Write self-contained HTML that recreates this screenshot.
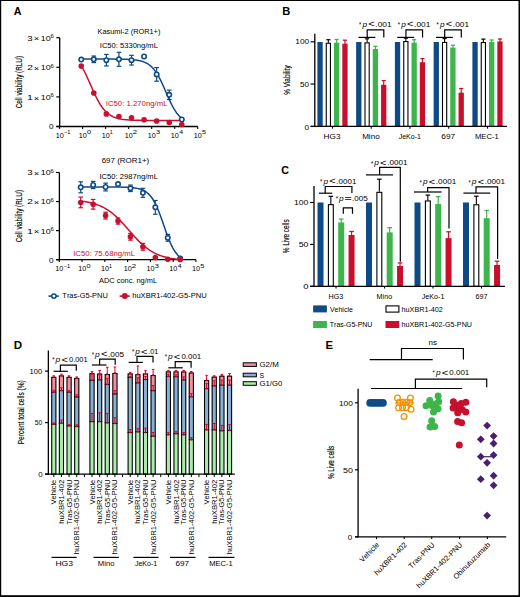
<!DOCTYPE html>
<html><head><meta charset="utf-8"><style>
html,body{margin:0;padding:0;background:#fff;width:520px;height:597px;overflow:hidden;}
svg{display:block;}
text{font-kerning:none;}
</style></head><body>
<svg width="520" height="597" viewBox="0 0 520 597">
<rect x="0" y="0" width="520" height="597" fill="#fff"/>
<text transform="translate(13.63,15.1) scale(0.941,1)" fill="#000" style="font-family:'Liberation Sans', sans-serif;font-size:11.4px;font-weight:bold;">A</text>
<line x1="59.7" y1="37.7" x2="59.7" y2="127.15" stroke="#000" stroke-width="1.3" stroke-linecap="butt"/>
<line x1="56.3" y1="126.5" x2="197.72" y2="126.5" stroke="#000" stroke-width="1.3" stroke-linecap="butt"/>
<line x1="56.3" y1="126.5" x2="59.7" y2="126.5" stroke="#000" stroke-width="1.2" stroke-linecap="butt"/>
<line x1="56.3" y1="96.9" x2="59.7" y2="96.9" stroke="#000" stroke-width="1.2" stroke-linecap="butt"/>
<line x1="56.3" y1="67.3" x2="59.7" y2="67.3" stroke="#000" stroke-width="1.2" stroke-linecap="butt"/>
<line x1="56.3" y1="37.7" x2="59.7" y2="37.7" stroke="#000" stroke-width="1.2" stroke-linecap="butt"/>
<line x1="59.6" y1="126.5" x2="59.6" y2="128.9" stroke="#000" stroke-width="1.1" stroke-linecap="butt"/>
<line x1="82.62" y1="126.5" x2="82.62" y2="128.9" stroke="#000" stroke-width="1.1" stroke-linecap="butt"/>
<line x1="105.64" y1="126.5" x2="105.64" y2="128.9" stroke="#000" stroke-width="1.1" stroke-linecap="butt"/>
<line x1="128.66" y1="126.5" x2="128.66" y2="128.9" stroke="#000" stroke-width="1.1" stroke-linecap="butt"/>
<line x1="151.68" y1="126.5" x2="151.68" y2="128.9" stroke="#000" stroke-width="1.1" stroke-linecap="butt"/>
<line x1="174.7" y1="126.5" x2="174.7" y2="128.9" stroke="#000" stroke-width="1.1" stroke-linecap="butt"/>
<line x1="197.72" y1="126.5" x2="197.72" y2="128.9" stroke="#000" stroke-width="1.1" stroke-linecap="butt"/>
<text transform="translate(49.08,129.4) scale(1.133,1)" fill="#000" style="font-family:'Liberation Sans', sans-serif;font-size:7.2px;">0</text>
<text transform="translate(26.89,99.8) scale(1.482,1)" fill="#000" style="font-family:'Liberation Sans', sans-serif;font-size:7.2px;">1</text>
<text transform="translate(33.85,100.5) scale(1.178,1)" fill="#000" style="font-family:'Liberation Sans', sans-serif;font-size:8px;">×</text>
<text transform="translate(40.82,99.8) scale(1.240,1)" fill="#000" style="font-family:'Liberation Sans', sans-serif;font-size:7.2px;">10</text>
<text transform="translate(50.5,97.2) scale(1.272,1)" fill="#000" style="font-family:'Liberation Sans', sans-serif;font-size:4.6px;">6</text>
<text transform="translate(27.19,70.2) scale(1.402,1)" fill="#000" style="font-family:'Liberation Sans', sans-serif;font-size:7.2px;">2</text>
<text transform="translate(33.85,70.9) scale(1.178,1)" fill="#000" style="font-family:'Liberation Sans', sans-serif;font-size:8px;">×</text>
<text transform="translate(40.82,70.2) scale(1.240,1)" fill="#000" style="font-family:'Liberation Sans', sans-serif;font-size:7.2px;">10</text>
<text transform="translate(50.5,67.6) scale(1.272,1)" fill="#000" style="font-family:'Liberation Sans', sans-serif;font-size:4.6px;">6</text>
<text transform="translate(27.33,40.6) scale(1.348,1)" fill="#000" style="font-family:'Liberation Sans', sans-serif;font-size:7.2px;">3</text>
<text transform="translate(33.85,41.3) scale(1.178,1)" fill="#000" style="font-family:'Liberation Sans', sans-serif;font-size:8px;">×</text>
<text transform="translate(40.82,40.6) scale(1.240,1)" fill="#000" style="font-family:'Liberation Sans', sans-serif;font-size:7.2px;">10</text>
<text transform="translate(50.5,38) scale(1.272,1)" fill="#000" style="font-family:'Liberation Sans', sans-serif;font-size:4.6px;">6</text>
<text transform="translate(55.65,138) scale(1.032,1)" fill="#000" style="font-family:'Liberation Sans', sans-serif;font-size:7px;">10</text>
<text transform="translate(64.02,134.4) scale(1.068,1)" fill="#000" style="font-family:'Liberation Sans', sans-serif;font-size:5.3px;">−1</text>
<text transform="translate(78.67,138) scale(1.032,1)" fill="#000" style="font-family:'Liberation Sans', sans-serif;font-size:7px;">10</text>
<text transform="translate(86.93,134.4) scale(1.381,1)" fill="#000" style="font-family:'Liberation Sans', sans-serif;font-size:5.3px;">0</text>
<text transform="translate(101.69,138) scale(1.032,1)" fill="#000" style="font-family:'Liberation Sans', sans-serif;font-size:7px;">10</text>
<text transform="translate(109.83,134.4) scale(1.007,1)" fill="#000" style="font-family:'Liberation Sans', sans-serif;font-size:5.3px;">1</text>
<text transform="translate(124.71,138) scale(1.032,1)" fill="#000" style="font-family:'Liberation Sans', sans-serif;font-size:7px;">10</text>
<text transform="translate(132.87,134.4) scale(1.450,1)" fill="#000" style="font-family:'Liberation Sans', sans-serif;font-size:5.3px;">2</text>
<text transform="translate(147.73,138) scale(1.032,1)" fill="#000" style="font-family:'Liberation Sans', sans-serif;font-size:7px;">10</text>
<text transform="translate(156,134.4) scale(1.393,1)" fill="#000" style="font-family:'Liberation Sans', sans-serif;font-size:5.3px;">3</text>
<text transform="translate(170.75,138) scale(1.032,1)" fill="#000" style="font-family:'Liberation Sans', sans-serif;font-size:7px;">10</text>
<text transform="translate(179.14,134.4) scale(1.311,1)" fill="#000" style="font-family:'Liberation Sans', sans-serif;font-size:5.3px;">4</text>
<text transform="translate(193.77,138) scale(1.032,1)" fill="#000" style="font-family:'Liberation Sans', sans-serif;font-size:7px;">10</text>
<text transform="translate(202.02,134.4) scale(1.393,1)" fill="#000" style="font-family:'Liberation Sans', sans-serif;font-size:5.3px;">5</text>
<text transform="translate(21.5,108.22) rotate(-90) scale(0.707,1)" fill="#000" style="font-family:'Liberation Sans', sans-serif;font-size:9px;stroke:#000;stroke-width:0.14px;">Cell viability (RLU)</text>
<text transform="translate(97.6,34.2) scale(0.970,1)" fill="#000" style="font-family:'Liberation Sans', sans-serif;font-size:7.6px;">Kasumi-2 (ROR1+)</text>
<text transform="translate(99.8,48.3) scale(1.011,1)" fill="#000" style="font-family:'Liberation Sans', sans-serif;font-size:7.5px;">IC50: 5330ng/mL</text>
<text transform="translate(105.78,105.9) scale(1.038,1)" fill="#c8102e" style="font-family:'Liberation Sans', sans-serif;font-size:7.5px;">IC50: 1.270ng/mL</text>
<polyline points="81.24,59.07 82.51,59.07 83.78,59.07 85.06,59.07 86.33,59.07 87.6,59.07 88.88,59.07 90.15,59.07 91.42,59.07 92.69,59.07 93.97,59.07 95.24,59.07 96.51,59.08 97.79,59.08 99.06,59.08 100.33,59.08 101.6,59.08 102.88,59.08 104.15,59.08 105.42,59.08 106.69,59.09 107.97,59.09 109.24,59.09 110.51,59.1 111.79,59.1 113.06,59.11 114.33,59.12 115.6,59.13 116.88,59.14 118.15,59.15 119.42,59.17 120.7,59.19 121.97,59.21 123.24,59.24 124.51,59.27 125.79,59.31 127.06,59.35 128.33,59.41 129.61,59.47 130.88,59.55 132.15,59.64 133.42,59.76 134.7,59.89 135.97,60.04 137.24,60.23 138.51,60.45 139.79,60.72 141.06,61.03 142.33,61.4 143.61,61.83 144.88,62.35 146.15,62.95 147.42,63.65 148.7,64.48 149.97,65.43 151.24,66.53 152.52,67.79 153.79,69.24 155.06,70.87 156.33,72.69 157.61,74.72 158.88,76.95 160.15,79.37 161.43,81.95 162.7,84.68 163.97,87.52 165.24,90.43 166.52,93.36 167.79,96.27 169.06,99.12 170.33,101.85 171.61,104.45 172.88,106.87 174.15,109.1 175.43,111.14 176.7,112.98 177.97,114.61 179.24,116.06 180.52,117.33 181.79,118.44" fill="none" stroke="#0e4b86" stroke-width="1.5" stroke-linejoin="round"/>
<polyline points="81.24,65.75 82.51,67.93 83.78,70.28 85.06,72.78 86.33,75.43 87.6,78.19 88.88,81.03 90.15,83.92 91.42,86.82 92.69,89.69 93.97,92.5 95.24,95.21 96.51,97.79 97.79,100.23 99.06,102.5 100.33,104.6 101.6,106.51 102.88,108.25 104.15,109.81 105.42,111.2 106.69,112.43 107.97,113.52 109.24,114.48 110.51,115.31 111.79,116.04 113.06,116.67 114.33,117.22 115.6,117.69 116.88,118.09 118.15,118.44 119.42,118.74 120.7,119 121.97,119.22 123.24,119.41 124.51,119.57 125.79,119.7 127.06,119.82 128.33,119.92 129.61,120 130.88,120.08 132.15,120.14 133.42,120.19 134.7,120.24 135.97,120.27 137.24,120.31 138.51,120.33 139.79,120.36 141.06,120.38 142.33,120.39 143.61,120.41 144.88,120.42 146.15,120.43 147.42,120.44 148.7,120.45 149.97,120.45 151.24,120.46 152.52,120.46 153.79,120.47 155.06,120.47 156.33,120.47 157.61,120.48 158.88,120.48 160.15,120.48 161.43,120.48 162.7,120.48 163.97,120.49 165.24,120.49 166.52,120.49 167.79,120.49 169.06,120.49 170.33,120.49 171.61,120.49 172.88,120.49 174.15,120.49 175.43,120.49 176.7,120.49 177.97,120.49 179.24,120.49 180.52,120.49 181.79,120.49" fill="none" stroke="#c8102e" stroke-width="1.5" stroke-linejoin="round"/>
<circle cx="81.24" cy="59.6" r="2.2" fill="#fff" stroke="#0e4b86" stroke-width="1.6"/>
<line x1="93.81" y1="56.01" x2="93.81" y2="62.61" stroke="#0e4b86" stroke-width="1.2" stroke-linecap="butt"/>
<line x1="91.51" y1="56.01" x2="96.11" y2="56.01" stroke="#0e4b86" stroke-width="1.2" stroke-linecap="butt"/>
<line x1="91.51" y1="62.61" x2="96.11" y2="62.61" stroke="#0e4b86" stroke-width="1.2" stroke-linecap="butt"/>
<circle cx="93.81" cy="59.31" r="2.2" fill="#fff" stroke="#0e4b86" stroke-width="1.6"/>
<line x1="106.38" y1="54.45" x2="106.38" y2="65.95" stroke="#0e4b86" stroke-width="1.2" stroke-linecap="butt"/>
<line x1="104.08" y1="54.45" x2="108.68" y2="54.45" stroke="#0e4b86" stroke-width="1.2" stroke-linecap="butt"/>
<line x1="104.08" y1="65.95" x2="108.68" y2="65.95" stroke="#0e4b86" stroke-width="1.2" stroke-linecap="butt"/>
<circle cx="106.38" cy="60.2" r="2.2" fill="#fff" stroke="#0e4b86" stroke-width="1.6"/>
<line x1="118.95" y1="52.31" x2="118.95" y2="66.31" stroke="#0e4b86" stroke-width="1.2" stroke-linecap="butt"/>
<line x1="116.65" y1="52.31" x2="121.25" y2="52.31" stroke="#0e4b86" stroke-width="1.2" stroke-linecap="butt"/>
<line x1="116.65" y1="66.31" x2="121.25" y2="66.31" stroke="#0e4b86" stroke-width="1.2" stroke-linecap="butt"/>
<circle cx="118.95" cy="59.31" r="2.2" fill="#fff" stroke="#0e4b86" stroke-width="1.6"/>
<line x1="131.51" y1="55.35" x2="131.51" y2="65.05" stroke="#0e4b86" stroke-width="1.2" stroke-linecap="butt"/>
<line x1="129.21" y1="55.35" x2="133.81" y2="55.35" stroke="#0e4b86" stroke-width="1.2" stroke-linecap="butt"/>
<line x1="129.21" y1="65.05" x2="133.81" y2="65.05" stroke="#0e4b86" stroke-width="1.2" stroke-linecap="butt"/>
<circle cx="131.51" cy="60.2" r="2.2" fill="#fff" stroke="#0e4b86" stroke-width="1.6"/>
<circle cx="144.08" cy="56.5" r="2.2" fill="#fff" stroke="#0e4b86" stroke-width="1.6"/>
<line x1="156.65" y1="67.6" x2="156.65" y2="81.2" stroke="#0e4b86" stroke-width="1.2" stroke-linecap="butt"/>
<line x1="154.35" y1="67.6" x2="158.95" y2="67.6" stroke="#0e4b86" stroke-width="1.2" stroke-linecap="butt"/>
<line x1="154.35" y1="81.2" x2="158.95" y2="81.2" stroke="#0e4b86" stroke-width="1.2" stroke-linecap="butt"/>
<circle cx="156.65" cy="74.4" r="2.2" fill="#fff" stroke="#0e4b86" stroke-width="1.6"/>
<line x1="169.22" y1="90.13" x2="169.22" y2="99.53" stroke="#0e4b86" stroke-width="1.2" stroke-linecap="butt"/>
<line x1="166.92" y1="90.13" x2="171.52" y2="90.13" stroke="#0e4b86" stroke-width="1.2" stroke-linecap="butt"/>
<line x1="166.92" y1="99.53" x2="171.52" y2="99.53" stroke="#0e4b86" stroke-width="1.2" stroke-linecap="butt"/>
<circle cx="169.22" cy="94.83" r="2.2" fill="#fff" stroke="#0e4b86" stroke-width="1.6"/>
<circle cx="181.79" cy="119.51" r="2.2" fill="#fff" stroke="#0e4b86" stroke-width="1.6"/>
<circle cx="81.24" cy="66.12" r="2.8" fill="#c8102e"/>
<circle cx="93.81" cy="93.05" r="2.8" fill="#c8102e"/>
<circle cx="106.38" cy="113.89" r="2.8" fill="#c8102e"/>
<circle cx="118.95" cy="116.61" r="2.8" fill="#c8102e"/>
<circle cx="131.51" cy="117.71" r="2.8" fill="#c8102e"/>
<circle cx="144.08" cy="119.81" r="2.8" fill="#c8102e"/>
<circle cx="156.65" cy="120.99" r="2.8" fill="#c8102e"/>
<circle cx="169.22" cy="122.5" r="2.8" fill="#c8102e"/>
<circle cx="181.79" cy="124.49" r="2.8" fill="#c8102e"/>
<line x1="59.4" y1="172.49" x2="59.4" y2="260.35" stroke="#000" stroke-width="1.3" stroke-linecap="butt"/>
<line x1="56" y1="259.7" x2="195.98" y2="259.7" stroke="#000" stroke-width="1.3" stroke-linecap="butt"/>
<line x1="56" y1="259.7" x2="59.4" y2="259.7" stroke="#000" stroke-width="1.2" stroke-linecap="butt"/>
<line x1="56" y1="230.63" x2="59.4" y2="230.63" stroke="#000" stroke-width="1.2" stroke-linecap="butt"/>
<line x1="56" y1="201.56" x2="59.4" y2="201.56" stroke="#000" stroke-width="1.2" stroke-linecap="butt"/>
<line x1="56" y1="172.49" x2="59.4" y2="172.49" stroke="#000" stroke-width="1.2" stroke-linecap="butt"/>
<line x1="59.3" y1="259.7" x2="59.3" y2="262.1" stroke="#000" stroke-width="1.1" stroke-linecap="butt"/>
<line x1="82.08" y1="259.7" x2="82.08" y2="262.1" stroke="#000" stroke-width="1.1" stroke-linecap="butt"/>
<line x1="104.86" y1="259.7" x2="104.86" y2="262.1" stroke="#000" stroke-width="1.1" stroke-linecap="butt"/>
<line x1="127.64" y1="259.7" x2="127.64" y2="262.1" stroke="#000" stroke-width="1.1" stroke-linecap="butt"/>
<line x1="150.42" y1="259.7" x2="150.42" y2="262.1" stroke="#000" stroke-width="1.1" stroke-linecap="butt"/>
<line x1="173.2" y1="259.7" x2="173.2" y2="262.1" stroke="#000" stroke-width="1.1" stroke-linecap="butt"/>
<line x1="195.98" y1="259.7" x2="195.98" y2="262.1" stroke="#000" stroke-width="1.1" stroke-linecap="butt"/>
<text transform="translate(49.08,262.6) scale(1.133,1)" fill="#000" style="font-family:'Liberation Sans', sans-serif;font-size:7.2px;">0</text>
<text transform="translate(26.89,233.53) scale(1.482,1)" fill="#000" style="font-family:'Liberation Sans', sans-serif;font-size:7.2px;">1</text>
<text transform="translate(33.85,234.23) scale(1.178,1)" fill="#000" style="font-family:'Liberation Sans', sans-serif;font-size:8px;">×</text>
<text transform="translate(40.82,233.53) scale(1.240,1)" fill="#000" style="font-family:'Liberation Sans', sans-serif;font-size:7.2px;">10</text>
<text transform="translate(50.5,230.93) scale(1.272,1)" fill="#000" style="font-family:'Liberation Sans', sans-serif;font-size:4.6px;">6</text>
<text transform="translate(27.19,204.46) scale(1.402,1)" fill="#000" style="font-family:'Liberation Sans', sans-serif;font-size:7.2px;">2</text>
<text transform="translate(33.85,205.16) scale(1.178,1)" fill="#000" style="font-family:'Liberation Sans', sans-serif;font-size:8px;">×</text>
<text transform="translate(40.82,204.46) scale(1.240,1)" fill="#000" style="font-family:'Liberation Sans', sans-serif;font-size:7.2px;">10</text>
<text transform="translate(50.5,201.86) scale(1.272,1)" fill="#000" style="font-family:'Liberation Sans', sans-serif;font-size:4.6px;">6</text>
<text transform="translate(27.33,175.39) scale(1.348,1)" fill="#000" style="font-family:'Liberation Sans', sans-serif;font-size:7.2px;">3</text>
<text transform="translate(33.85,176.09) scale(1.178,1)" fill="#000" style="font-family:'Liberation Sans', sans-serif;font-size:8px;">×</text>
<text transform="translate(40.82,175.39) scale(1.240,1)" fill="#000" style="font-family:'Liberation Sans', sans-serif;font-size:7.2px;">10</text>
<text transform="translate(50.5,172.79) scale(1.272,1)" fill="#000" style="font-family:'Liberation Sans', sans-serif;font-size:4.6px;">6</text>
<text transform="translate(55.35,271.2) scale(1.032,1)" fill="#000" style="font-family:'Liberation Sans', sans-serif;font-size:7px;">10</text>
<text transform="translate(63.72,267.6) scale(1.068,1)" fill="#000" style="font-family:'Liberation Sans', sans-serif;font-size:5.3px;">−1</text>
<text transform="translate(78.13,271.2) scale(1.032,1)" fill="#000" style="font-family:'Liberation Sans', sans-serif;font-size:7px;">10</text>
<text transform="translate(86.39,267.6) scale(1.381,1)" fill="#000" style="font-family:'Liberation Sans', sans-serif;font-size:5.3px;">0</text>
<text transform="translate(100.91,271.2) scale(1.032,1)" fill="#000" style="font-family:'Liberation Sans', sans-serif;font-size:7px;">10</text>
<text transform="translate(109.05,267.6) scale(1.007,1)" fill="#000" style="font-family:'Liberation Sans', sans-serif;font-size:5.3px;">1</text>
<text transform="translate(123.69,271.2) scale(1.032,1)" fill="#000" style="font-family:'Liberation Sans', sans-serif;font-size:7px;">10</text>
<text transform="translate(131.85,267.6) scale(1.450,1)" fill="#000" style="font-family:'Liberation Sans', sans-serif;font-size:5.3px;">2</text>
<text transform="translate(146.47,271.2) scale(1.032,1)" fill="#000" style="font-family:'Liberation Sans', sans-serif;font-size:7px;">10</text>
<text transform="translate(154.74,267.6) scale(1.393,1)" fill="#000" style="font-family:'Liberation Sans', sans-serif;font-size:5.3px;">3</text>
<text transform="translate(169.25,271.2) scale(1.032,1)" fill="#000" style="font-family:'Liberation Sans', sans-serif;font-size:7px;">10</text>
<text transform="translate(177.64,267.6) scale(1.311,1)" fill="#000" style="font-family:'Liberation Sans', sans-serif;font-size:5.3px;">4</text>
<text transform="translate(192.03,271.2) scale(1.032,1)" fill="#000" style="font-family:'Liberation Sans', sans-serif;font-size:7px;">10</text>
<text transform="translate(200.28,267.6) scale(1.393,1)" fill="#000" style="font-family:'Liberation Sans', sans-serif;font-size:5.3px;">5</text>
<text transform="translate(21.5,242.22) rotate(-90) scale(0.707,1)" fill="#000" style="font-family:'Liberation Sans', sans-serif;font-size:9px;stroke:#000;stroke-width:0.14px;">Cell viability (RLU)</text>
<text transform="translate(101.7,162.8) scale(1.048,1)" fill="#000" style="font-family:'Liberation Sans', sans-serif;font-size:7.6px;">697 (ROR1+)</text>
<text transform="translate(99.5,179.4) scale(1.016,1)" fill="#000" style="font-family:'Liberation Sans', sans-serif;font-size:7.5px;">IC50: 2987ng/mL</text>
<text transform="translate(73.18,255.5) scale(1.041,1)" fill="#c8102e" style="font-family:'Liberation Sans', sans-serif;font-size:7.5px;">IC50: 75.68ng/mL</text>
<polyline points="80.71,187 81.97,187 83.23,187 84.49,187 85.75,187 87.01,187 88.27,187 89.53,187 90.79,187 92.05,187 93.31,187 94.57,187 95.83,187 97.09,187 98.35,187 99.61,187 100.87,187 102.13,187 103.38,187 104.64,187.01 105.9,187.01 107.16,187.01 108.42,187.01 109.68,187.02 110.94,187.02 112.2,187.03 113.46,187.03 114.72,187.04 115.98,187.05 117.24,187.06 118.5,187.08 119.76,187.09 121.02,187.11 122.28,187.14 123.54,187.17 124.8,187.2 126.06,187.25 127.32,187.3 128.58,187.36 129.83,187.44 131.09,187.53 132.35,187.64 133.61,187.78 134.87,187.94 136.13,188.14 137.39,188.37 138.65,188.66 139.91,189 141.17,189.41 142.43,189.9 143.69,190.48 144.95,191.17 146.21,192 147.47,192.97 148.73,194.11 149.99,195.44 151.25,196.99 152.51,198.77 153.77,200.8 155.03,203.09 156.29,205.65 157.54,208.47 158.8,211.54 160.06,214.82 161.32,218.28 162.58,221.85 163.84,225.49 165.1,229.11 166.36,232.67 167.62,236.09 168.88,239.32 170.14,242.34 171.4,245.1 172.66,247.6 173.92,249.84 175.18,251.81 176.44,253.54 177.7,255.03 178.96,256.32 180.22,257.42" fill="none" stroke="#0e4b86" stroke-width="1.5" stroke-linejoin="round"/>
<polyline points="80.71,201.08 81.97,201.24 83.23,201.41 84.49,201.6 85.75,201.8 87.01,202.02 88.27,202.27 89.53,202.53 90.79,202.82 92.05,203.13 93.31,203.47 94.57,203.84 95.83,204.24 97.09,204.68 98.35,205.15 99.61,205.65 100.87,206.2 102.13,206.79 103.38,207.42 104.64,208.09 105.9,208.82 107.16,209.59 108.42,210.41 109.68,211.28 110.94,212.21 112.2,213.19 113.46,214.22 114.72,215.3 115.98,216.43 117.24,217.61 118.5,218.84 119.76,220.11 121.02,221.42 122.28,222.76 123.54,224.14 124.8,225.54 126.06,226.96 127.32,228.4 128.58,229.84 129.83,231.28 131.09,232.72 132.35,234.15 133.61,235.56 134.87,236.95 136.13,238.31 137.39,239.63 138.65,240.92 139.91,242.17 141.17,243.37 142.43,244.52 143.69,245.62 144.95,246.67 146.21,247.68 147.47,248.62 148.73,249.52 149.99,250.36 151.25,251.16 152.51,251.9 153.77,252.6 155.03,253.25 156.29,253.85 157.54,254.42 158.8,254.94 160.06,255.43 161.32,255.87 162.58,256.29 163.84,256.67 165.1,257.02 166.36,257.35 167.62,257.65 168.88,257.92 170.14,258.18 171.4,258.41 172.66,258.62 173.92,258.81 175.18,258.99 176.44,259.16 177.7,259.31 178.96,259.44 180.22,259.57" fill="none" stroke="#c8102e" stroke-width="1.5" stroke-linejoin="round"/>
<line x1="80.71" y1="181.82" x2="80.71" y2="192.82" stroke="#0e4b86" stroke-width="1.2" stroke-linecap="butt"/>
<line x1="78.41" y1="181.82" x2="83.01" y2="181.82" stroke="#0e4b86" stroke-width="1.2" stroke-linecap="butt"/>
<line x1="78.41" y1="192.82" x2="83.01" y2="192.82" stroke="#0e4b86" stroke-width="1.2" stroke-linecap="butt"/>
<circle cx="80.71" cy="187.32" r="2.2" fill="#fff" stroke="#0e4b86" stroke-width="1.6"/>
<line x1="93.15" y1="181.39" x2="93.15" y2="188.59" stroke="#0e4b86" stroke-width="1.2" stroke-linecap="butt"/>
<line x1="90.85" y1="181.39" x2="95.45" y2="181.39" stroke="#0e4b86" stroke-width="1.2" stroke-linecap="butt"/>
<line x1="90.85" y1="188.59" x2="95.45" y2="188.59" stroke="#0e4b86" stroke-width="1.2" stroke-linecap="butt"/>
<circle cx="93.15" cy="184.99" r="2.2" fill="#fff" stroke="#0e4b86" stroke-width="1.6"/>
<line x1="105.59" y1="183.12" x2="105.59" y2="190.92" stroke="#0e4b86" stroke-width="1.2" stroke-linecap="butt"/>
<line x1="103.29" y1="183.12" x2="107.89" y2="183.12" stroke="#0e4b86" stroke-width="1.2" stroke-linecap="butt"/>
<line x1="103.29" y1="190.92" x2="107.89" y2="190.92" stroke="#0e4b86" stroke-width="1.2" stroke-linecap="butt"/>
<circle cx="105.59" cy="187.02" r="2.2" fill="#fff" stroke="#0e4b86" stroke-width="1.6"/>
<circle cx="118.03" cy="184.12" r="2.2" fill="#fff" stroke="#0e4b86" stroke-width="1.6"/>
<line x1="130.46" y1="185.05" x2="130.46" y2="191.55" stroke="#0e4b86" stroke-width="1.2" stroke-linecap="butt"/>
<line x1="128.16" y1="185.05" x2="132.76" y2="185.05" stroke="#0e4b86" stroke-width="1.2" stroke-linecap="butt"/>
<line x1="128.16" y1="191.55" x2="132.76" y2="191.55" stroke="#0e4b86" stroke-width="1.2" stroke-linecap="butt"/>
<circle cx="130.46" cy="188.3" r="2.2" fill="#fff" stroke="#0e4b86" stroke-width="1.6"/>
<line x1="142.9" y1="188.34" x2="142.9" y2="197.34" stroke="#0e4b86" stroke-width="1.2" stroke-linecap="butt"/>
<line x1="140.6" y1="188.34" x2="145.2" y2="188.34" stroke="#0e4b86" stroke-width="1.2" stroke-linecap="butt"/>
<line x1="140.6" y1="197.34" x2="145.2" y2="197.34" stroke="#0e4b86" stroke-width="1.2" stroke-linecap="butt"/>
<circle cx="142.9" cy="192.84" r="2.2" fill="#fff" stroke="#0e4b86" stroke-width="1.6"/>
<line x1="155.34" y1="200.47" x2="155.34" y2="214.27" stroke="#0e4b86" stroke-width="1.2" stroke-linecap="butt"/>
<line x1="153.04" y1="200.47" x2="157.64" y2="200.47" stroke="#0e4b86" stroke-width="1.2" stroke-linecap="butt"/>
<line x1="153.04" y1="214.27" x2="157.64" y2="214.27" stroke="#0e4b86" stroke-width="1.2" stroke-linecap="butt"/>
<circle cx="155.34" cy="207.37" r="2.2" fill="#fff" stroke="#0e4b86" stroke-width="1.6"/>
<line x1="167.78" y1="234.41" x2="167.78" y2="241.21" stroke="#0e4b86" stroke-width="1.2" stroke-linecap="butt"/>
<line x1="165.48" y1="234.41" x2="170.08" y2="234.41" stroke="#0e4b86" stroke-width="1.2" stroke-linecap="butt"/>
<line x1="165.48" y1="241.21" x2="170.08" y2="241.21" stroke="#0e4b86" stroke-width="1.2" stroke-linecap="butt"/>
<circle cx="167.78" cy="237.81" r="2.2" fill="#fff" stroke="#0e4b86" stroke-width="1.6"/>
<circle cx="180.22" cy="258.6" r="2.2" fill="#fff" stroke="#0e4b86" stroke-width="1.6"/>
<line x1="80.71" y1="197.13" x2="80.71" y2="207.73" stroke="#c8102e" stroke-width="1.2" stroke-linecap="butt"/>
<line x1="78.41" y1="197.13" x2="83.01" y2="197.13" stroke="#c8102e" stroke-width="1.2" stroke-linecap="butt"/>
<line x1="78.41" y1="207.73" x2="83.01" y2="207.73" stroke="#c8102e" stroke-width="1.2" stroke-linecap="butt"/>
<circle cx="80.71" cy="202.43" r="2.8" fill="#c8102e"/>
<line x1="93.15" y1="199.44" x2="93.15" y2="209.14" stroke="#c8102e" stroke-width="1.2" stroke-linecap="butt"/>
<line x1="90.85" y1="199.44" x2="95.45" y2="199.44" stroke="#c8102e" stroke-width="1.2" stroke-linecap="butt"/>
<line x1="90.85" y1="209.14" x2="95.45" y2="209.14" stroke="#c8102e" stroke-width="1.2" stroke-linecap="butt"/>
<circle cx="93.15" cy="204.29" r="2.8" fill="#c8102e"/>
<line x1="105.59" y1="212.25" x2="105.59" y2="218.95" stroke="#c8102e" stroke-width="1.2" stroke-linecap="butt"/>
<line x1="103.29" y1="212.25" x2="107.89" y2="212.25" stroke="#c8102e" stroke-width="1.2" stroke-linecap="butt"/>
<line x1="103.29" y1="218.95" x2="107.89" y2="218.95" stroke="#c8102e" stroke-width="1.2" stroke-linecap="butt"/>
<circle cx="105.59" cy="215.6" r="2.8" fill="#c8102e"/>
<line x1="118.03" y1="217.94" x2="118.03" y2="224.14" stroke="#c8102e" stroke-width="1.2" stroke-linecap="butt"/>
<line x1="115.73" y1="217.94" x2="120.33" y2="217.94" stroke="#c8102e" stroke-width="1.2" stroke-linecap="butt"/>
<line x1="115.73" y1="224.14" x2="120.33" y2="224.14" stroke="#c8102e" stroke-width="1.2" stroke-linecap="butt"/>
<circle cx="118.03" cy="221.04" r="2.8" fill="#c8102e"/>
<line x1="130.46" y1="233.44" x2="130.46" y2="240.14" stroke="#c8102e" stroke-width="1.2" stroke-linecap="butt"/>
<line x1="128.16" y1="233.44" x2="132.76" y2="233.44" stroke="#c8102e" stroke-width="1.2" stroke-linecap="butt"/>
<line x1="128.16" y1="240.14" x2="132.76" y2="240.14" stroke="#c8102e" stroke-width="1.2" stroke-linecap="butt"/>
<circle cx="130.46" cy="236.79" r="2.8" fill="#c8102e"/>
<line x1="142.9" y1="243.39" x2="142.9" y2="250.19" stroke="#c8102e" stroke-width="1.2" stroke-linecap="butt"/>
<line x1="140.6" y1="243.39" x2="145.2" y2="243.39" stroke="#c8102e" stroke-width="1.2" stroke-linecap="butt"/>
<line x1="140.6" y1="250.19" x2="145.2" y2="250.19" stroke="#c8102e" stroke-width="1.2" stroke-linecap="butt"/>
<circle cx="142.9" cy="246.79" r="2.8" fill="#c8102e"/>
<circle cx="155.34" cy="257.49" r="2.8" fill="#c8102e"/>
<circle cx="167.78" cy="259.21" r="2.8" fill="#c8102e"/>
<circle cx="180.22" cy="259.41" r="2.8" fill="#c8102e"/>
<text transform="translate(98.99,283.4) scale(0.964,1)" fill="#000" style="font-family:'Liberation Sans', sans-serif;font-size:7.7px;">ADC conc. ng/mL</text>
<line x1="48.5" y1="296.1" x2="58.8" y2="296.1" stroke="#0e4b86" stroke-width="1.6" stroke-linecap="butt"/>
<circle cx="53.9" cy="296.1" r="2.2" fill="#fff" stroke="#0e4b86" stroke-width="1.5"/>
<text transform="translate(62.33,298.2) scale(0.994,1)" fill="#000" style="font-family:'Liberation Sans', sans-serif;font-size:7.5px;">Tras-G5-PNU</text>
<line x1="119.6" y1="296.1" x2="129.8" y2="296.1" stroke="#c8102e" stroke-width="1.6" stroke-linecap="butt"/>
<circle cx="124.8" cy="296.1" r="3" fill="#c8102e"/>
<text transform="translate(132.17,298.2) scale(1.011,1)" fill="#000" style="font-family:'Liberation Sans', sans-serif;font-size:7.5px;">huXBR1-402-G5-PNU</text>
<text transform="translate(282.25,15) scale(0.978,1)" fill="#000" style="font-family:'Liberation Sans', sans-serif;font-size:11.4px;font-weight:bold;">B</text>
<text transform="translate(295.27,44) scale(1.154,1)" fill="#000" style="font-family:'Liberation Sans', sans-serif;font-size:7.2px;">100</text>
<text transform="translate(300.07,86.5) scale(1.129,1)" fill="#000" style="font-family:'Liberation Sans', sans-serif;font-size:7.2px;">50</text>
<text transform="translate(304.38,129.5) scale(1.133,1)" fill="#000" style="font-family:'Liberation Sans', sans-serif;font-size:7.2px;">0</text>
<text transform="translate(289.9,94.83) rotate(-90) scale(0.714,1)" fill="#000" style="font-family:'Liberation Sans', sans-serif;font-size:9px;stroke:#000;stroke-width:0.14px;">% Viability</text>
<rect x="317.4" y="42" width="5.3" height="84.45" fill="#0e4b86"/>
<line x1="328.35" y1="42.7" x2="328.35" y2="39.7" stroke="#000" stroke-width="1.1" stroke-linecap="butt"/>
<line x1="326.3" y1="39.7" x2="330.4" y2="39.7" stroke="#000" stroke-width="1.2" stroke-linecap="butt"/>
<rect x="326.25" y="43.25" width="4.2" height="83.2" fill="#fff" stroke="#000" stroke-width="1.1"/>
<line x1="336.65" y1="43.2" x2="336.65" y2="39.5" stroke="#3db54a" stroke-width="1.2" stroke-linecap="butt"/>
<line x1="334.6" y1="39.5" x2="338.7" y2="39.5" stroke="#3db54a" stroke-width="1.3" stroke-linecap="butt"/>
<rect x="334" y="42.7" width="5.3" height="83.75" fill="#3db54a"/>
<line x1="344.95" y1="44.2" x2="344.95" y2="40.2" stroke="#c8102e" stroke-width="1.2" stroke-linecap="butt"/>
<line x1="342.9" y1="40.2" x2="347" y2="40.2" stroke="#c8102e" stroke-width="1.3" stroke-linecap="butt"/>
<rect x="342.3" y="43.7" width="5.3" height="82.75" fill="#c8102e"/>
<line x1="332.5" y1="126.45" x2="332.5" y2="128.65" stroke="#000" stroke-width="1.1" stroke-linecap="butt"/>
<text transform="translate(323.62,139) scale(1.113,1)" fill="#000" style="font-family:'Liberation Sans', sans-serif;font-size:7.4px;">HG3</text>
<rect x="356.15" y="42" width="5.3" height="84.45" fill="#0e4b86"/>
<line x1="367.1" y1="42.3" x2="367.1" y2="38.8" stroke="#000" stroke-width="1.1" stroke-linecap="butt"/>
<line x1="365.05" y1="38.8" x2="369.15" y2="38.8" stroke="#000" stroke-width="1.2" stroke-linecap="butt"/>
<rect x="365" y="42.85" width="4.2" height="83.6" fill="#fff" stroke="#000" stroke-width="1.1"/>
<line x1="375.4" y1="49.5" x2="375.4" y2="46.3" stroke="#3db54a" stroke-width="1.2" stroke-linecap="butt"/>
<line x1="373.35" y1="46.3" x2="377.45" y2="46.3" stroke="#3db54a" stroke-width="1.3" stroke-linecap="butt"/>
<rect x="372.75" y="49" width="5.3" height="77.45" fill="#3db54a"/>
<line x1="383.7" y1="85.3" x2="383.7" y2="80.6" stroke="#c8102e" stroke-width="1.2" stroke-linecap="butt"/>
<line x1="381.65" y1="80.6" x2="385.75" y2="80.6" stroke="#c8102e" stroke-width="1.3" stroke-linecap="butt"/>
<rect x="381.05" y="84.8" width="5.3" height="41.65" fill="#c8102e"/>
<line x1="371.25" y1="126.45" x2="371.25" y2="128.65" stroke="#000" stroke-width="1.1" stroke-linecap="butt"/>
<text transform="translate(362.14,139) scale(1.091,1)" fill="#000" style="font-family:'Liberation Sans', sans-serif;font-size:7.4px;">Mino</text>
<rect x="394.9" y="42" width="5.3" height="84.45" fill="#0e4b86"/>
<line x1="405.85" y1="41" x2="405.85" y2="38.2" stroke="#000" stroke-width="1.1" stroke-linecap="butt"/>
<line x1="403.8" y1="38.2" x2="407.9" y2="38.2" stroke="#000" stroke-width="1.2" stroke-linecap="butt"/>
<rect x="403.75" y="41.55" width="4.2" height="84.9" fill="#fff" stroke="#000" stroke-width="1.1"/>
<line x1="414.15" y1="43.2" x2="414.15" y2="39.7" stroke="#3db54a" stroke-width="1.2" stroke-linecap="butt"/>
<line x1="412.1" y1="39.7" x2="416.2" y2="39.7" stroke="#3db54a" stroke-width="1.3" stroke-linecap="butt"/>
<rect x="411.5" y="42.7" width="5.3" height="83.75" fill="#3db54a"/>
<line x1="422.45" y1="62.7" x2="422.45" y2="58.6" stroke="#c8102e" stroke-width="1.2" stroke-linecap="butt"/>
<line x1="420.4" y1="58.6" x2="424.5" y2="58.6" stroke="#c8102e" stroke-width="1.3" stroke-linecap="butt"/>
<rect x="419.8" y="62.2" width="5.3" height="64.25" fill="#c8102e"/>
<line x1="410" y1="126.45" x2="410" y2="128.65" stroke="#000" stroke-width="1.1" stroke-linecap="butt"/>
<text transform="translate(398.69,139) scale(0.949,1)" fill="#000" style="font-family:'Liberation Sans', sans-serif;font-size:7.4px;">JeKo-1</text>
<rect x="433.65" y="42" width="5.3" height="84.45" fill="#0e4b86"/>
<line x1="444.6" y1="41.9" x2="444.6" y2="38.6" stroke="#000" stroke-width="1.1" stroke-linecap="butt"/>
<line x1="442.55" y1="38.6" x2="446.65" y2="38.6" stroke="#000" stroke-width="1.2" stroke-linecap="butt"/>
<rect x="442.5" y="42.45" width="4.2" height="84" fill="#fff" stroke="#000" stroke-width="1.1"/>
<line x1="452.9" y1="48.1" x2="452.9" y2="45.3" stroke="#3db54a" stroke-width="1.2" stroke-linecap="butt"/>
<line x1="450.85" y1="45.3" x2="454.95" y2="45.3" stroke="#3db54a" stroke-width="1.3" stroke-linecap="butt"/>
<rect x="450.25" y="47.6" width="5.3" height="78.85" fill="#3db54a"/>
<line x1="461.2" y1="93.2" x2="461.2" y2="88.5" stroke="#c8102e" stroke-width="1.2" stroke-linecap="butt"/>
<line x1="459.15" y1="88.5" x2="463.25" y2="88.5" stroke="#c8102e" stroke-width="1.3" stroke-linecap="butt"/>
<rect x="458.55" y="92.7" width="5.3" height="33.75" fill="#c8102e"/>
<line x1="448.75" y1="126.45" x2="448.75" y2="128.65" stroke="#000" stroke-width="1.1" stroke-linecap="butt"/>
<text transform="translate(441.28,139) scale(1.129,1)" fill="#000" style="font-family:'Liberation Sans', sans-serif;font-size:7.4px;">697</text>
<rect x="472.4" y="42" width="5.3" height="84.45" fill="#0e4b86"/>
<line x1="483.35" y1="42" x2="483.35" y2="39.1" stroke="#000" stroke-width="1.1" stroke-linecap="butt"/>
<line x1="481.3" y1="39.1" x2="485.4" y2="39.1" stroke="#000" stroke-width="1.2" stroke-linecap="butt"/>
<rect x="481.25" y="42.55" width="4.2" height="83.9" fill="#fff" stroke="#000" stroke-width="1.1"/>
<line x1="491.65" y1="42.5" x2="491.65" y2="40" stroke="#3db54a" stroke-width="1.2" stroke-linecap="butt"/>
<line x1="489.6" y1="40" x2="493.7" y2="40" stroke="#3db54a" stroke-width="1.3" stroke-linecap="butt"/>
<rect x="489" y="42" width="5.3" height="84.45" fill="#3db54a"/>
<line x1="499.95" y1="41.9" x2="499.95" y2="39" stroke="#c8102e" stroke-width="1.2" stroke-linecap="butt"/>
<line x1="497.9" y1="39" x2="502" y2="39" stroke="#c8102e" stroke-width="1.3" stroke-linecap="butt"/>
<rect x="497.3" y="41.4" width="5.3" height="85.05" fill="#c8102e"/>
<line x1="487.5" y1="126.45" x2="487.5" y2="128.65" stroke="#000" stroke-width="1.1" stroke-linecap="butt"/>
<text transform="translate(474.97,139) scale(1.034,1)" fill="#000" style="font-family:'Liberation Sans', sans-serif;font-size:7.4px;">MEC-1</text>
<line x1="314.8" y1="33.7" x2="314.8" y2="127.1" stroke="#000" stroke-width="1.3" stroke-linecap="butt"/>
<line x1="310.6" y1="126.45" x2="506.9" y2="126.45" stroke="#000" stroke-width="1.3" stroke-linecap="butt"/>
<line x1="310.6" y1="41.8" x2="314.8" y2="41.8" stroke="#000" stroke-width="1.2" stroke-linecap="butt"/>
<line x1="310.6" y1="84.05" x2="314.8" y2="84.05" stroke="#000" stroke-width="1.2" stroke-linecap="butt"/>
<line x1="310.6" y1="126.45" x2="314.8" y2="126.45" stroke="#000" stroke-width="1.2" stroke-linecap="butt"/>
<line x1="358.5" y1="37.4" x2="375.4" y2="37.4" stroke="#000" stroke-width="1.2" stroke-linecap="butt"/>
<polyline points="367.2,37.4 367.2,29.8 383.8,29.8 383.8,37.6" fill="none" stroke="#000" stroke-width="1.2" stroke-linejoin="miter"/>
<text transform="translate(359.11,27) scale(0.864,1)" fill="#000" style="font-family:'Liberation Sans', sans-serif;font-size:6.8px;">*</text>
<text transform="translate(362.41,26.6) scale(1.197,1)" fill="#000" style="font-family:'Liberation Sans', sans-serif;font-size:7px;font-style:italic;">p</text>
<text transform="translate(368.25,27.3) scale(1.235,1)" fill="#000" style="font-family:'Liberation Sans', sans-serif;font-size:9px;">&lt;</text>
<text transform="translate(375.34,26.6) scale(1.130,1)" fill="#000" style="font-family:'Liberation Sans', sans-serif;font-size:7.4px;">.001</text>
<line x1="397.25" y1="37.4" x2="414.15" y2="37.4" stroke="#000" stroke-width="1.2" stroke-linecap="butt"/>
<polyline points="405.95,37.4 405.95,29.8 422.55,29.8 422.55,37.6" fill="none" stroke="#000" stroke-width="1.2" stroke-linejoin="miter"/>
<text transform="translate(397.86,27) scale(0.864,1)" fill="#000" style="font-family:'Liberation Sans', sans-serif;font-size:6.8px;">*</text>
<text transform="translate(401.16,26.6) scale(1.197,1)" fill="#000" style="font-family:'Liberation Sans', sans-serif;font-size:7px;font-style:italic;">p</text>
<text transform="translate(407,27.3) scale(1.235,1)" fill="#000" style="font-family:'Liberation Sans', sans-serif;font-size:9px;">&lt;</text>
<text transform="translate(414.09,26.6) scale(1.130,1)" fill="#000" style="font-family:'Liberation Sans', sans-serif;font-size:7.4px;">.001</text>
<line x1="436" y1="37.4" x2="452.9" y2="37.4" stroke="#000" stroke-width="1.2" stroke-linecap="butt"/>
<polyline points="444.7,37.4 444.7,29.8 461.3,29.8 461.3,37.6" fill="none" stroke="#000" stroke-width="1.2" stroke-linejoin="miter"/>
<text transform="translate(436.61,27) scale(0.864,1)" fill="#000" style="font-family:'Liberation Sans', sans-serif;font-size:6.8px;">*</text>
<text transform="translate(439.91,26.6) scale(1.197,1)" fill="#000" style="font-family:'Liberation Sans', sans-serif;font-size:7px;font-style:italic;">p</text>
<text transform="translate(445.75,27.3) scale(1.235,1)" fill="#000" style="font-family:'Liberation Sans', sans-serif;font-size:9px;">&lt;</text>
<text transform="translate(452.84,26.6) scale(1.130,1)" fill="#000" style="font-family:'Liberation Sans', sans-serif;font-size:7.4px;">.001</text>
<text transform="translate(281.16,174.3) scale(0.939,1)" fill="#000" style="font-family:'Liberation Sans', sans-serif;font-size:11.4px;font-weight:bold;">C</text>
<text transform="translate(293.94,205.1) scale(1.207,1)" fill="#000" style="font-family:'Liberation Sans', sans-serif;font-size:7.2px;">100</text>
<text transform="translate(298.65,247) scale(1.223,1)" fill="#000" style="font-family:'Liberation Sans', sans-serif;font-size:7.2px;">50</text>
<text transform="translate(303.13,288.9) scale(1.307,1)" fill="#000" style="font-family:'Liberation Sans', sans-serif;font-size:7.2px;">0</text>
<text transform="translate(289,253.33) rotate(-90) scale(0.715,1)" fill="#000" style="font-family:'Liberation Sans', sans-serif;font-size:9px;stroke:#000;stroke-width:0.14px;">% Live cells</text>
<rect x="317.5" y="202.5" width="6" height="83.8" fill="#0e4b86"/>
<line x1="330.85" y1="204.1" x2="330.85" y2="196.3" stroke="#000" stroke-width="1.1" stroke-linecap="butt"/>
<line x1="328.55" y1="196.3" x2="333.15" y2="196.3" stroke="#000" stroke-width="1.2" stroke-linecap="butt"/>
<rect x="328.4" y="204.65" width="4.9" height="81.65" fill="#fff" stroke="#000" stroke-width="1.1"/>
<line x1="341.2" y1="223" x2="341.2" y2="219.1" stroke="#3db54a" stroke-width="1.2" stroke-linecap="butt"/>
<line x1="338.9" y1="219.1" x2="343.5" y2="219.1" stroke="#3db54a" stroke-width="1.3" stroke-linecap="butt"/>
<rect x="338.2" y="222.5" width="6" height="63.8" fill="#3db54a"/>
<line x1="351.55" y1="235.5" x2="351.55" y2="231.5" stroke="#c8102e" stroke-width="1.2" stroke-linecap="butt"/>
<line x1="349.25" y1="231.5" x2="353.85" y2="231.5" stroke="#c8102e" stroke-width="1.3" stroke-linecap="butt"/>
<rect x="348.55" y="235" width="6" height="51.3" fill="#c8102e"/>
<line x1="336.02" y1="286.3" x2="336.02" y2="288.5" stroke="#000" stroke-width="1.1" stroke-linecap="butt"/>
<text transform="translate(328.51,299) scale(0.970,1)" fill="#000" style="font-family:'Liberation Sans', sans-serif;font-size:7.4px;">HG3</text>
<rect x="366" y="202.5" width="6" height="83.8" fill="#0e4b86"/>
<line x1="379.35" y1="191.8" x2="379.35" y2="179.2" stroke="#000" stroke-width="1.1" stroke-linecap="butt"/>
<line x1="377.05" y1="179.2" x2="381.65" y2="179.2" stroke="#000" stroke-width="1.2" stroke-linecap="butt"/>
<rect x="376.9" y="192.35" width="4.9" height="93.95" fill="#fff" stroke="#000" stroke-width="1.1"/>
<line x1="389.7" y1="232.9" x2="389.7" y2="227.7" stroke="#3db54a" stroke-width="1.2" stroke-linecap="butt"/>
<line x1="387.4" y1="227.7" x2="392" y2="227.7" stroke="#3db54a" stroke-width="1.3" stroke-linecap="butt"/>
<rect x="386.7" y="232.4" width="6" height="53.9" fill="#3db54a"/>
<line x1="400.05" y1="266.5" x2="400.05" y2="262.9" stroke="#c8102e" stroke-width="1.2" stroke-linecap="butt"/>
<line x1="397.75" y1="262.9" x2="402.35" y2="262.9" stroke="#c8102e" stroke-width="1.3" stroke-linecap="butt"/>
<rect x="397.05" y="266" width="6" height="20.3" fill="#c8102e"/>
<line x1="384.52" y1="286.3" x2="384.52" y2="288.5" stroke="#000" stroke-width="1.1" stroke-linecap="butt"/>
<text transform="translate(376.6,299) scale(0.970,1)" fill="#000" style="font-family:'Liberation Sans', sans-serif;font-size:7.4px;">Mino</text>
<rect x="414.5" y="202.5" width="6" height="83.8" fill="#0e4b86"/>
<line x1="427.85" y1="200.4" x2="427.85" y2="195.1" stroke="#000" stroke-width="1.1" stroke-linecap="butt"/>
<line x1="425.55" y1="195.1" x2="430.15" y2="195.1" stroke="#000" stroke-width="1.2" stroke-linecap="butt"/>
<rect x="425.4" y="200.95" width="4.9" height="85.35" fill="#fff" stroke="#000" stroke-width="1.1"/>
<line x1="438.2" y1="204.4" x2="438.2" y2="196.6" stroke="#3db54a" stroke-width="1.2" stroke-linecap="butt"/>
<line x1="435.9" y1="196.6" x2="440.5" y2="196.6" stroke="#3db54a" stroke-width="1.3" stroke-linecap="butt"/>
<rect x="435.2" y="203.9" width="6" height="82.4" fill="#3db54a"/>
<line x1="448.55" y1="238.6" x2="448.55" y2="231.8" stroke="#c8102e" stroke-width="1.2" stroke-linecap="butt"/>
<line x1="446.25" y1="231.8" x2="450.85" y2="231.8" stroke="#c8102e" stroke-width="1.3" stroke-linecap="butt"/>
<rect x="445.55" y="238.1" width="6" height="48.2" fill="#c8102e"/>
<line x1="433.02" y1="286.3" x2="433.02" y2="288.5" stroke="#000" stroke-width="1.1" stroke-linecap="butt"/>
<text transform="translate(421.77,299) scale(0.970,1)" fill="#000" style="font-family:'Liberation Sans', sans-serif;font-size:7.4px;">JeKo-1</text>
<rect x="463" y="202.5" width="6" height="83.8" fill="#0e4b86"/>
<line x1="476.35" y1="204.2" x2="476.35" y2="196.2" stroke="#000" stroke-width="1.1" stroke-linecap="butt"/>
<line x1="474.05" y1="196.2" x2="478.65" y2="196.2" stroke="#000" stroke-width="1.2" stroke-linecap="butt"/>
<rect x="473.9" y="204.75" width="4.9" height="81.55" fill="#fff" stroke="#000" stroke-width="1.1"/>
<line x1="486.7" y1="218.7" x2="486.7" y2="210.5" stroke="#3db54a" stroke-width="1.2" stroke-linecap="butt"/>
<line x1="484.4" y1="210.5" x2="489" y2="210.5" stroke="#3db54a" stroke-width="1.3" stroke-linecap="butt"/>
<rect x="483.7" y="218.2" width="6" height="68.1" fill="#3db54a"/>
<line x1="497.05" y1="265.5" x2="497.05" y2="261.2" stroke="#c8102e" stroke-width="1.2" stroke-linecap="butt"/>
<line x1="494.75" y1="261.2" x2="499.35" y2="261.2" stroke="#c8102e" stroke-width="1.3" stroke-linecap="butt"/>
<rect x="494.05" y="265" width="6" height="21.3" fill="#c8102e"/>
<line x1="481.52" y1="286.3" x2="481.52" y2="288.5" stroke="#000" stroke-width="1.1" stroke-linecap="butt"/>
<text transform="translate(475.54,299) scale(0.970,1)" fill="#000" style="font-family:'Liberation Sans', sans-serif;font-size:7.4px;">697</text>
<line x1="314" y1="185.9" x2="314" y2="286.95" stroke="#000" stroke-width="1.3" stroke-linecap="butt"/>
<line x1="310" y1="286.3" x2="504.9" y2="286.3" stroke="#000" stroke-width="1.3" stroke-linecap="butt"/>
<line x1="310" y1="202.5" x2="314" y2="202.5" stroke="#000" stroke-width="1.2" stroke-linecap="butt"/>
<line x1="310" y1="244.4" x2="314" y2="244.4" stroke="#000" stroke-width="1.2" stroke-linecap="butt"/>
<line x1="310" y1="286.3" x2="314" y2="286.3" stroke="#000" stroke-width="1.2" stroke-linecap="butt"/>
<line x1="319" y1="193.2" x2="332.3" y2="193.2" stroke="#000" stroke-width="1.2" stroke-linecap="butt"/>
<polyline points="325.2,193.2 325.2,186.5 351.9,186.5 351.9,192.9" fill="none" stroke="#000" stroke-width="1.2" stroke-linejoin="miter"/>
<text transform="translate(320.11,184.1) scale(0.864,1)" fill="#000" style="font-family:'Liberation Sans', sans-serif;font-size:6.8px;">*</text>
<text transform="translate(323.41,183.7) scale(1.197,1)" fill="#000" style="font-family:'Liberation Sans', sans-serif;font-size:7px;font-style:italic;">p</text>
<text transform="translate(329.25,184.4) scale(1.235,1)" fill="#000" style="font-family:'Liberation Sans', sans-serif;font-size:9px;">&lt;</text>
<text transform="translate(336.37,183.7) scale(1.081,1)" fill="#000" style="font-family:'Liberation Sans', sans-serif;font-size:7.4px;">.0001</text>
<polyline points="343.3,213.7 343.3,207.9 352.5,207.9 352.5,213.7" fill="none" stroke="#000" stroke-width="1.2" stroke-linejoin="miter"/>
<text transform="translate(335.71,201.4) scale(0.864,1)" fill="#000" style="font-family:'Liberation Sans', sans-serif;font-size:6.8px;">*</text>
<text transform="translate(339.01,201) scale(1.197,1)" fill="#000" style="font-family:'Liberation Sans', sans-serif;font-size:7px;font-style:italic;">p</text>
<text transform="translate(344.64,200.6) scale(1.201,1)" fill="#000" style="font-family:'Liberation Sans', sans-serif;font-size:9.6px;stroke:#000;stroke-width:0.25px;">=</text>
<text transform="translate(351.95,201) scale(1.103,1)" fill="#000" style="font-family:'Liberation Sans', sans-serif;font-size:7.4px;">.005</text>
<line x1="366" y1="174.9" x2="393" y2="174.9" stroke="#000" stroke-width="1.2" stroke-linecap="butt"/>
<polyline points="379.6,174.9 379.6,167.4 400.3,167.4 400.3,261.7" fill="none" stroke="#000" stroke-width="1.2" stroke-linejoin="miter"/>
<text transform="translate(370.91,165.6) scale(0.864,1)" fill="#000" style="font-family:'Liberation Sans', sans-serif;font-size:6.8px;">*</text>
<text transform="translate(374.21,165.2) scale(1.197,1)" fill="#000" style="font-family:'Liberation Sans', sans-serif;font-size:7px;font-style:italic;">p</text>
<text transform="translate(380.05,165.9) scale(1.235,1)" fill="#000" style="font-family:'Liberation Sans', sans-serif;font-size:9px;">&lt;</text>
<text transform="translate(387.16,165.2) scale(1.093,1)" fill="#000" style="font-family:'Liberation Sans', sans-serif;font-size:7.4px;">.0001</text>
<line x1="414" y1="192" x2="441.6" y2="192" stroke="#000" stroke-width="1.2" stroke-linecap="butt"/>
<polyline points="427.6,192 427.6,187.6 449,187.6 449,228.6" fill="none" stroke="#000" stroke-width="1.2" stroke-linejoin="miter"/>
<text transform="translate(419.61,184.6) scale(0.864,1)" fill="#000" style="font-family:'Liberation Sans', sans-serif;font-size:6.8px;">*</text>
<text transform="translate(422.91,184.2) scale(1.197,1)" fill="#000" style="font-family:'Liberation Sans', sans-serif;font-size:7px;font-style:italic;">p</text>
<text transform="translate(428.75,184.9) scale(1.235,1)" fill="#000" style="font-family:'Liberation Sans', sans-serif;font-size:9px;">&lt;</text>
<text transform="translate(435.85,184.2) scale(1.104,1)" fill="#000" style="font-family:'Liberation Sans', sans-serif;font-size:7.4px;">.0001</text>
<line x1="463.4" y1="193.1" x2="490.2" y2="193.1" stroke="#000" stroke-width="1.2" stroke-linecap="butt"/>
<polyline points="476,193.1 476,186.8 497.6,186.8 497.6,259.1" fill="none" stroke="#000" stroke-width="1.2" stroke-linejoin="miter"/>
<text transform="translate(468.51,184.6) scale(0.864,1)" fill="#000" style="font-family:'Liberation Sans', sans-serif;font-size:6.8px;">*</text>
<text transform="translate(471.81,184.2) scale(1.197,1)" fill="#000" style="font-family:'Liberation Sans', sans-serif;font-size:7px;font-style:italic;">p</text>
<text transform="translate(477.65,184.9) scale(1.235,1)" fill="#000" style="font-family:'Liberation Sans', sans-serif;font-size:9px;">&lt;</text>
<text transform="translate(484.76,184.2) scale(1.098,1)" fill="#000" style="font-family:'Liberation Sans', sans-serif;font-size:7.4px;">.0001</text>
<rect x="313.1" y="305.4" width="13.8" height="7" fill="#0e4b86"/>
<rect x="313.1" y="321" width="13.8" height="7" fill="#3db54a"/>
<rect x="386" y="305.9" width="12.9" height="6.2" fill="#fff" stroke="#000" stroke-width="1.1"/>
<rect x="385.5" y="321" width="13.8" height="7" fill="#c8102e"/>
<text transform="translate(329.97,311.6) scale(0.967,1)" fill="#000" style="font-family:'Liberation Sans', sans-serif;font-size:7.2px;">Vehicle</text>
<text transform="translate(329.84,327) scale(0.968,1)" fill="#000" style="font-family:'Liberation Sans', sans-serif;font-size:7.2px;">Tras-G5-PNU</text>
<text transform="translate(401.6,311.6) scale(1.001,1)" fill="#000" style="font-family:'Liberation Sans', sans-serif;font-size:7.2px;">huXBR1-402</text>
<text transform="translate(401.6,327) scale(0.995,1)" fill="#000" style="font-family:'Liberation Sans', sans-serif;font-size:7.2px;">huXBR1-402-G5-PNU</text>
<text transform="translate(13.63,348.6) scale(1.016,1)" fill="#000" style="font-family:'Liberation Sans', sans-serif;font-size:11.4px;font-weight:bold;">D</text>
<text transform="translate(29.62,373.6) scale(1.055,1)" fill="#000" style="font-family:'Liberation Sans', sans-serif;font-size:7.2px;">100</text>
<text transform="translate(34.73,425.1) scale(0.941,1)" fill="#000" style="font-family:'Liberation Sans', sans-serif;font-size:7.2px;">50</text>
<text transform="translate(38.19,476.7) scale(1.104,1)" fill="#000" style="font-family:'Liberation Sans', sans-serif;font-size:7.2px;">0</text>
<text transform="translate(24.1,444.34) rotate(-90) scale(0.741,1)" fill="#000" style="font-family:'Liberation Sans', sans-serif;font-size:8.9px;stroke:#000;stroke-width:0.14px;">Percent total cells (%)</text>
<rect x="51.2" y="424.2" width="5.2" height="49.9" fill="#aaebab"/>
<rect x="51.2" y="392.2" width="5.2" height="32" fill="#8aafd2"/>
<rect x="51.2" y="376.8" width="5.2" height="15.4" fill="#f2909f"/>
<rect x="51.72" y="377.32" width="4.15" height="96.78" fill="none" stroke="#000" stroke-width="1.05"/>
<line x1="51.2" y1="392.2" x2="56.4" y2="392.2" stroke="#000" stroke-width="0.9" stroke-linecap="butt"/>
<line x1="51.2" y1="424.2" x2="56.4" y2="424.2" stroke="#000" stroke-width="0.9" stroke-linecap="butt"/>
<line x1="53.8" y1="376.8" x2="53.8" y2="375.8" stroke="#e0002a" stroke-width="1" stroke-linecap="butt"/>
<line x1="52.5" y1="375.8" x2="55.1" y2="375.8" stroke="#e0002a" stroke-width="1" stroke-linecap="butt"/>
<circle cx="53.8" cy="376.8" r="0.9" fill="#e0002a"/>
<line x1="53.8" y1="392.2" x2="53.8" y2="390.2" stroke="#e0002a" stroke-width="1" stroke-linecap="butt"/>
<line x1="52.5" y1="390.2" x2="55.1" y2="390.2" stroke="#e0002a" stroke-width="1" stroke-linecap="butt"/>
<circle cx="53.8" cy="392.2" r="0.9" fill="#e0002a"/>
<line x1="53.8" y1="424.2" x2="53.8" y2="423" stroke="#e0002a" stroke-width="1" stroke-linecap="butt"/>
<line x1="52.5" y1="423" x2="55.1" y2="423" stroke="#e0002a" stroke-width="1" stroke-linecap="butt"/>
<circle cx="53.8" cy="424.2" r="0.9" fill="#e0002a"/>
<text transform="translate(56.3,504.43) rotate(-90) scale(1.049,1)" fill="#000" style="font-family:'Liberation Sans', sans-serif;font-size:7.2px;">Vehicle</text>
<rect x="58.84" y="423.1" width="5.2" height="51" fill="#aaebab"/>
<rect x="58.84" y="390.6" width="5.2" height="32.5" fill="#8aafd2"/>
<rect x="58.84" y="375.4" width="5.2" height="15.2" fill="#f2909f"/>
<rect x="59.36" y="375.92" width="4.15" height="98.18" fill="none" stroke="#000" stroke-width="1.05"/>
<line x1="58.84" y1="390.6" x2="64.04" y2="390.6" stroke="#000" stroke-width="0.9" stroke-linecap="butt"/>
<line x1="58.84" y1="423.1" x2="64.04" y2="423.1" stroke="#000" stroke-width="0.9" stroke-linecap="butt"/>
<line x1="61.44" y1="375.4" x2="61.44" y2="374.2" stroke="#e0002a" stroke-width="1" stroke-linecap="butt"/>
<line x1="60.14" y1="374.2" x2="62.74" y2="374.2" stroke="#e0002a" stroke-width="1" stroke-linecap="butt"/>
<circle cx="61.44" cy="375.4" r="0.9" fill="#e0002a"/>
<line x1="61.44" y1="390.6" x2="61.44" y2="387.8" stroke="#e0002a" stroke-width="1" stroke-linecap="butt"/>
<line x1="60.14" y1="387.8" x2="62.74" y2="387.8" stroke="#e0002a" stroke-width="1" stroke-linecap="butt"/>
<circle cx="61.44" cy="390.6" r="0.9" fill="#e0002a"/>
<line x1="61.44" y1="423.1" x2="61.44" y2="420.1" stroke="#e0002a" stroke-width="1" stroke-linecap="butt"/>
<line x1="60.14" y1="420.1" x2="62.74" y2="420.1" stroke="#e0002a" stroke-width="1" stroke-linecap="butt"/>
<circle cx="61.44" cy="423.1" r="0.9" fill="#e0002a"/>
<text transform="translate(63.94,523.84) rotate(-90) scale(1.073,1)" fill="#000" style="font-family:'Liberation Sans', sans-serif;font-size:7.2px;">huXBR1-402</text>
<rect x="66.48" y="425.8" width="5.2" height="48.3" fill="#aaebab"/>
<rect x="66.48" y="392.2" width="5.2" height="33.6" fill="#8aafd2"/>
<rect x="66.48" y="376.8" width="5.2" height="15.4" fill="#f2909f"/>
<rect x="67.01" y="377.32" width="4.15" height="96.78" fill="none" stroke="#000" stroke-width="1.05"/>
<line x1="66.48" y1="392.2" x2="71.68" y2="392.2" stroke="#000" stroke-width="0.9" stroke-linecap="butt"/>
<line x1="66.48" y1="425.8" x2="71.68" y2="425.8" stroke="#000" stroke-width="0.9" stroke-linecap="butt"/>
<line x1="69.08" y1="376.8" x2="69.08" y2="375.8" stroke="#e0002a" stroke-width="1" stroke-linecap="butt"/>
<line x1="67.78" y1="375.8" x2="70.38" y2="375.8" stroke="#e0002a" stroke-width="1" stroke-linecap="butt"/>
<circle cx="69.08" cy="376.8" r="0.9" fill="#e0002a"/>
<line x1="69.08" y1="392.2" x2="69.08" y2="390.7" stroke="#e0002a" stroke-width="1" stroke-linecap="butt"/>
<line x1="67.78" y1="390.7" x2="70.38" y2="390.7" stroke="#e0002a" stroke-width="1" stroke-linecap="butt"/>
<circle cx="69.08" cy="392.2" r="0.9" fill="#e0002a"/>
<line x1="69.08" y1="425.8" x2="69.08" y2="424.6" stroke="#e0002a" stroke-width="1" stroke-linecap="butt"/>
<line x1="67.78" y1="424.6" x2="70.38" y2="424.6" stroke="#e0002a" stroke-width="1" stroke-linecap="butt"/>
<circle cx="69.08" cy="425.8" r="0.9" fill="#e0002a"/>
<text transform="translate(71.58,524.67) rotate(-90) scale(1.028,1)" fill="#000" style="font-family:'Liberation Sans', sans-serif;font-size:7.2px;">Tras-G5-PNU</text>
<rect x="74.12" y="426.4" width="5.2" height="47.7" fill="#aaebab"/>
<rect x="74.12" y="396.9" width="5.2" height="29.5" fill="#8aafd2"/>
<rect x="74.12" y="377.9" width="5.2" height="19" fill="#f2909f"/>
<rect x="74.65" y="378.42" width="4.15" height="95.68" fill="none" stroke="#000" stroke-width="1.05"/>
<line x1="74.12" y1="396.9" x2="79.32" y2="396.9" stroke="#000" stroke-width="0.9" stroke-linecap="butt"/>
<line x1="74.12" y1="426.4" x2="79.32" y2="426.4" stroke="#000" stroke-width="0.9" stroke-linecap="butt"/>
<line x1="76.72" y1="377.9" x2="76.72" y2="376.9" stroke="#e0002a" stroke-width="1" stroke-linecap="butt"/>
<line x1="75.42" y1="376.9" x2="78.02" y2="376.9" stroke="#e0002a" stroke-width="1" stroke-linecap="butt"/>
<circle cx="76.72" cy="377.9" r="0.9" fill="#e0002a"/>
<line x1="76.72" y1="396.9" x2="76.72" y2="394.9" stroke="#e0002a" stroke-width="1" stroke-linecap="butt"/>
<line x1="75.42" y1="394.9" x2="78.02" y2="394.9" stroke="#e0002a" stroke-width="1" stroke-linecap="butt"/>
<circle cx="76.72" cy="396.9" r="0.9" fill="#e0002a"/>
<line x1="76.72" y1="426.4" x2="76.72" y2="424.9" stroke="#e0002a" stroke-width="1" stroke-linecap="butt"/>
<line x1="75.42" y1="424.9" x2="78.02" y2="424.9" stroke="#e0002a" stroke-width="1" stroke-linecap="butt"/>
<circle cx="76.72" cy="426.4" r="0.9" fill="#e0002a"/>
<text transform="translate(79.22,554.33) rotate(-90) scale(1.058,1)" fill="#000" style="font-family:'Liberation Sans', sans-serif;font-size:7.2px;">huXBR1-402-G5-PNU</text>
<line x1="53.8" y1="474.1" x2="53.8" y2="477.1" stroke="#000" stroke-width="1" stroke-linecap="butt"/>
<line x1="61.44" y1="474.1" x2="61.44" y2="477.1" stroke="#000" stroke-width="1" stroke-linecap="butt"/>
<line x1="69.08" y1="474.1" x2="69.08" y2="477.1" stroke="#000" stroke-width="1" stroke-linecap="butt"/>
<line x1="76.72" y1="474.1" x2="76.72" y2="477.1" stroke="#000" stroke-width="1" stroke-linecap="butt"/>
<line x1="84.36" y1="474.1" x2="84.36" y2="477.1" stroke="#000" stroke-width="1" stroke-linecap="butt"/>
<rect x="89.4" y="421.6" width="5.2" height="52.5" fill="#aaebab"/>
<rect x="89.4" y="380.3" width="5.2" height="41.3" fill="#8aafd2"/>
<rect x="89.4" y="373.1" width="5.2" height="7.2" fill="#f2909f"/>
<rect x="89.93" y="373.62" width="4.15" height="100.47" fill="none" stroke="#000" stroke-width="1.05"/>
<line x1="89.4" y1="380.3" x2="94.6" y2="380.3" stroke="#000" stroke-width="0.9" stroke-linecap="butt"/>
<line x1="89.4" y1="421.6" x2="94.6" y2="421.6" stroke="#000" stroke-width="0.9" stroke-linecap="butt"/>
<line x1="92" y1="373.1" x2="92" y2="371.6" stroke="#e0002a" stroke-width="1" stroke-linecap="butt"/>
<line x1="90.7" y1="371.6" x2="93.3" y2="371.6" stroke="#e0002a" stroke-width="1" stroke-linecap="butt"/>
<circle cx="92" cy="373.1" r="0.9" fill="#e0002a"/>
<line x1="92" y1="380.3" x2="92" y2="374.3" stroke="#e0002a" stroke-width="1" stroke-linecap="butt"/>
<line x1="90.7" y1="374.3" x2="93.3" y2="374.3" stroke="#e0002a" stroke-width="1" stroke-linecap="butt"/>
<circle cx="92" cy="380.3" r="0.9" fill="#e0002a"/>
<line x1="92" y1="421.6" x2="92" y2="413.4" stroke="#e0002a" stroke-width="1" stroke-linecap="butt"/>
<line x1="90.7" y1="413.4" x2="93.3" y2="413.4" stroke="#e0002a" stroke-width="1" stroke-linecap="butt"/>
<circle cx="92" cy="421.6" r="0.9" fill="#e0002a"/>
<text transform="translate(94.5,504.43) rotate(-90) scale(1.049,1)" fill="#000" style="font-family:'Liberation Sans', sans-serif;font-size:7.2px;">Vehicle</text>
<rect x="97.04" y="421.6" width="5.2" height="52.5" fill="#aaebab"/>
<rect x="97.04" y="379.8" width="5.2" height="41.8" fill="#8aafd2"/>
<rect x="97.04" y="373.5" width="5.2" height="6.3" fill="#f2909f"/>
<rect x="97.56" y="374.02" width="4.15" height="100.08" fill="none" stroke="#000" stroke-width="1.05"/>
<line x1="97.04" y1="379.8" x2="102.24" y2="379.8" stroke="#000" stroke-width="0.9" stroke-linecap="butt"/>
<line x1="97.04" y1="421.6" x2="102.24" y2="421.6" stroke="#000" stroke-width="0.9" stroke-linecap="butt"/>
<line x1="99.64" y1="373.5" x2="99.64" y2="370.6" stroke="#e0002a" stroke-width="1" stroke-linecap="butt"/>
<line x1="98.34" y1="370.6" x2="100.94" y2="370.6" stroke="#e0002a" stroke-width="1" stroke-linecap="butt"/>
<circle cx="99.64" cy="373.5" r="0.9" fill="#e0002a"/>
<line x1="99.64" y1="379.8" x2="99.64" y2="374.8" stroke="#e0002a" stroke-width="1" stroke-linecap="butt"/>
<line x1="98.34" y1="374.8" x2="100.94" y2="374.8" stroke="#e0002a" stroke-width="1" stroke-linecap="butt"/>
<circle cx="99.64" cy="379.8" r="0.9" fill="#e0002a"/>
<line x1="99.64" y1="421.6" x2="99.64" y2="412.8" stroke="#e0002a" stroke-width="1" stroke-linecap="butt"/>
<line x1="98.34" y1="412.8" x2="100.94" y2="412.8" stroke="#e0002a" stroke-width="1" stroke-linecap="butt"/>
<circle cx="99.64" cy="421.6" r="0.9" fill="#e0002a"/>
<text transform="translate(102.14,523.84) rotate(-90) scale(1.073,1)" fill="#000" style="font-family:'Liberation Sans', sans-serif;font-size:7.2px;">huXBR1-402</text>
<rect x="104.68" y="422.8" width="5.2" height="51.3" fill="#aaebab"/>
<rect x="104.68" y="384.4" width="5.2" height="38.4" fill="#8aafd2"/>
<rect x="104.68" y="374" width="5.2" height="10.4" fill="#f2909f"/>
<rect x="105.21" y="374.52" width="4.15" height="99.58" fill="none" stroke="#000" stroke-width="1.05"/>
<line x1="104.68" y1="384.4" x2="109.88" y2="384.4" stroke="#000" stroke-width="0.9" stroke-linecap="butt"/>
<line x1="104.68" y1="422.8" x2="109.88" y2="422.8" stroke="#000" stroke-width="0.9" stroke-linecap="butt"/>
<line x1="107.28" y1="374" x2="107.28" y2="367.3" stroke="#e0002a" stroke-width="1" stroke-linecap="butt"/>
<line x1="105.98" y1="367.3" x2="108.58" y2="367.3" stroke="#e0002a" stroke-width="1" stroke-linecap="butt"/>
<circle cx="107.28" cy="374" r="0.9" fill="#e0002a"/>
<line x1="107.28" y1="384.4" x2="107.28" y2="378.6" stroke="#e0002a" stroke-width="1" stroke-linecap="butt"/>
<line x1="105.98" y1="378.6" x2="108.58" y2="378.6" stroke="#e0002a" stroke-width="1" stroke-linecap="butt"/>
<circle cx="107.28" cy="384.4" r="0.9" fill="#e0002a"/>
<line x1="107.28" y1="422.8" x2="107.28" y2="413.4" stroke="#e0002a" stroke-width="1" stroke-linecap="butt"/>
<line x1="105.98" y1="413.4" x2="108.58" y2="413.4" stroke="#e0002a" stroke-width="1" stroke-linecap="butt"/>
<circle cx="107.28" cy="422.8" r="0.9" fill="#e0002a"/>
<text transform="translate(109.78,524.67) rotate(-90) scale(1.028,1)" fill="#000" style="font-family:'Liberation Sans', sans-serif;font-size:7.2px;">Tras-G5-PNU</text>
<rect x="112.32" y="423.4" width="5.2" height="50.7" fill="#aaebab"/>
<rect x="112.32" y="393.9" width="5.2" height="29.5" fill="#8aafd2"/>
<rect x="112.32" y="372.9" width="5.2" height="21" fill="#f2909f"/>
<rect x="112.84" y="373.42" width="4.15" height="100.68" fill="none" stroke="#000" stroke-width="1.05"/>
<line x1="112.32" y1="393.9" x2="117.52" y2="393.9" stroke="#000" stroke-width="0.9" stroke-linecap="butt"/>
<line x1="112.32" y1="423.4" x2="117.52" y2="423.4" stroke="#000" stroke-width="0.9" stroke-linecap="butt"/>
<line x1="114.92" y1="372.9" x2="114.92" y2="367" stroke="#e0002a" stroke-width="1" stroke-linecap="butt"/>
<line x1="113.62" y1="367" x2="116.22" y2="367" stroke="#e0002a" stroke-width="1" stroke-linecap="butt"/>
<circle cx="114.92" cy="372.9" r="0.9" fill="#e0002a"/>
<line x1="114.92" y1="393.9" x2="114.92" y2="390.6" stroke="#e0002a" stroke-width="1" stroke-linecap="butt"/>
<line x1="113.62" y1="390.6" x2="116.22" y2="390.6" stroke="#e0002a" stroke-width="1" stroke-linecap="butt"/>
<circle cx="114.92" cy="393.9" r="0.9" fill="#e0002a"/>
<line x1="114.92" y1="423.4" x2="114.92" y2="417.6" stroke="#e0002a" stroke-width="1" stroke-linecap="butt"/>
<line x1="113.62" y1="417.6" x2="116.22" y2="417.6" stroke="#e0002a" stroke-width="1" stroke-linecap="butt"/>
<circle cx="114.92" cy="423.4" r="0.9" fill="#e0002a"/>
<text transform="translate(117.42,554.33) rotate(-90) scale(1.058,1)" fill="#000" style="font-family:'Liberation Sans', sans-serif;font-size:7.2px;">huXBR1-402-G5-PNU</text>
<line x1="92" y1="474.1" x2="92" y2="477.1" stroke="#000" stroke-width="1" stroke-linecap="butt"/>
<line x1="99.64" y1="474.1" x2="99.64" y2="477.1" stroke="#000" stroke-width="1" stroke-linecap="butt"/>
<line x1="107.28" y1="474.1" x2="107.28" y2="477.1" stroke="#000" stroke-width="1" stroke-linecap="butt"/>
<line x1="114.92" y1="474.1" x2="114.92" y2="477.1" stroke="#000" stroke-width="1" stroke-linecap="butt"/>
<line x1="122.56" y1="474.1" x2="122.56" y2="477.1" stroke="#000" stroke-width="1" stroke-linecap="butt"/>
<rect x="127.6" y="432.5" width="5.2" height="41.6" fill="#aaebab"/>
<rect x="127.6" y="377.4" width="5.2" height="55.1" fill="#8aafd2"/>
<rect x="127.6" y="373.4" width="5.2" height="4" fill="#f2909f"/>
<rect x="128.12" y="373.92" width="4.15" height="100.18" fill="none" stroke="#000" stroke-width="1.05"/>
<line x1="127.6" y1="377.4" x2="132.8" y2="377.4" stroke="#000" stroke-width="0.9" stroke-linecap="butt"/>
<line x1="127.6" y1="432.5" x2="132.8" y2="432.5" stroke="#000" stroke-width="0.9" stroke-linecap="butt"/>
<line x1="130.2" y1="373.4" x2="130.2" y2="372.3" stroke="#e0002a" stroke-width="1" stroke-linecap="butt"/>
<line x1="128.9" y1="372.3" x2="131.5" y2="372.3" stroke="#e0002a" stroke-width="1" stroke-linecap="butt"/>
<circle cx="130.2" cy="373.4" r="0.9" fill="#e0002a"/>
<line x1="130.2" y1="377.4" x2="130.2" y2="376.4" stroke="#e0002a" stroke-width="1" stroke-linecap="butt"/>
<line x1="128.9" y1="376.4" x2="131.5" y2="376.4" stroke="#e0002a" stroke-width="1" stroke-linecap="butt"/>
<circle cx="130.2" cy="377.4" r="0.9" fill="#e0002a"/>
<line x1="130.2" y1="432.5" x2="130.2" y2="429.5" stroke="#e0002a" stroke-width="1" stroke-linecap="butt"/>
<line x1="128.9" y1="429.5" x2="131.5" y2="429.5" stroke="#e0002a" stroke-width="1" stroke-linecap="butt"/>
<circle cx="130.2" cy="432.5" r="0.9" fill="#e0002a"/>
<text transform="translate(132.7,504.43) rotate(-90) scale(1.049,1)" fill="#000" style="font-family:'Liberation Sans', sans-serif;font-size:7.2px;">Vehicle</text>
<rect x="135.24" y="431.8" width="5.2" height="42.3" fill="#aaebab"/>
<rect x="135.24" y="382.8" width="5.2" height="49" fill="#8aafd2"/>
<rect x="135.24" y="374.1" width="5.2" height="8.7" fill="#f2909f"/>
<rect x="135.76" y="374.62" width="4.15" height="99.47" fill="none" stroke="#000" stroke-width="1.05"/>
<line x1="135.24" y1="382.8" x2="140.44" y2="382.8" stroke="#000" stroke-width="0.9" stroke-linecap="butt"/>
<line x1="135.24" y1="431.8" x2="140.44" y2="431.8" stroke="#000" stroke-width="0.9" stroke-linecap="butt"/>
<line x1="137.84" y1="374.1" x2="137.84" y2="366" stroke="#e0002a" stroke-width="1" stroke-linecap="butt"/>
<line x1="136.54" y1="366" x2="139.14" y2="366" stroke="#e0002a" stroke-width="1" stroke-linecap="butt"/>
<circle cx="137.84" cy="374.1" r="0.9" fill="#e0002a"/>
<line x1="137.84" y1="382.8" x2="137.84" y2="377.8" stroke="#e0002a" stroke-width="1" stroke-linecap="butt"/>
<line x1="136.54" y1="377.8" x2="139.14" y2="377.8" stroke="#e0002a" stroke-width="1" stroke-linecap="butt"/>
<circle cx="137.84" cy="382.8" r="0.9" fill="#e0002a"/>
<line x1="137.84" y1="431.8" x2="137.84" y2="428.7" stroke="#e0002a" stroke-width="1" stroke-linecap="butt"/>
<line x1="136.54" y1="428.7" x2="139.14" y2="428.7" stroke="#e0002a" stroke-width="1" stroke-linecap="butt"/>
<circle cx="137.84" cy="431.8" r="0.9" fill="#e0002a"/>
<text transform="translate(140.34,523.84) rotate(-90) scale(1.073,1)" fill="#000" style="font-family:'Liberation Sans', sans-serif;font-size:7.2px;">huXBR1-402</text>
<rect x="142.88" y="432.5" width="5.2" height="41.6" fill="#aaebab"/>
<rect x="142.88" y="379.5" width="5.2" height="53" fill="#8aafd2"/>
<rect x="142.88" y="373.4" width="5.2" height="6.1" fill="#f2909f"/>
<rect x="143.41" y="373.92" width="4.15" height="100.18" fill="none" stroke="#000" stroke-width="1.05"/>
<line x1="142.88" y1="379.5" x2="148.08" y2="379.5" stroke="#000" stroke-width="0.9" stroke-linecap="butt"/>
<line x1="142.88" y1="432.5" x2="148.08" y2="432.5" stroke="#000" stroke-width="0.9" stroke-linecap="butt"/>
<line x1="145.48" y1="373.4" x2="145.48" y2="370.7" stroke="#e0002a" stroke-width="1" stroke-linecap="butt"/>
<line x1="144.18" y1="370.7" x2="146.78" y2="370.7" stroke="#e0002a" stroke-width="1" stroke-linecap="butt"/>
<circle cx="145.48" cy="373.4" r="0.9" fill="#e0002a"/>
<line x1="145.48" y1="379.5" x2="145.48" y2="376.5" stroke="#e0002a" stroke-width="1" stroke-linecap="butt"/>
<line x1="144.18" y1="376.5" x2="146.78" y2="376.5" stroke="#e0002a" stroke-width="1" stroke-linecap="butt"/>
<circle cx="145.48" cy="379.5" r="0.9" fill="#e0002a"/>
<line x1="145.48" y1="432.5" x2="145.48" y2="428.2" stroke="#e0002a" stroke-width="1" stroke-linecap="butt"/>
<line x1="144.18" y1="428.2" x2="146.78" y2="428.2" stroke="#e0002a" stroke-width="1" stroke-linecap="butt"/>
<circle cx="145.48" cy="432.5" r="0.9" fill="#e0002a"/>
<text transform="translate(147.98,524.67) rotate(-90) scale(1.028,1)" fill="#000" style="font-family:'Liberation Sans', sans-serif;font-size:7.2px;">Tras-G5-PNU</text>
<rect x="150.52" y="436.2" width="5.2" height="37.9" fill="#aaebab"/>
<rect x="150.52" y="390.6" width="5.2" height="45.6" fill="#8aafd2"/>
<rect x="150.52" y="375" width="5.2" height="15.6" fill="#f2909f"/>
<rect x="151.05" y="375.52" width="4.15" height="98.58" fill="none" stroke="#000" stroke-width="1.05"/>
<line x1="150.52" y1="390.6" x2="155.72" y2="390.6" stroke="#000" stroke-width="0.9" stroke-linecap="butt"/>
<line x1="150.52" y1="436.2" x2="155.72" y2="436.2" stroke="#000" stroke-width="0.9" stroke-linecap="butt"/>
<line x1="153.12" y1="375" x2="153.12" y2="369.4" stroke="#e0002a" stroke-width="1" stroke-linecap="butt"/>
<line x1="151.82" y1="369.4" x2="154.42" y2="369.4" stroke="#e0002a" stroke-width="1" stroke-linecap="butt"/>
<circle cx="153.12" cy="375" r="0.9" fill="#e0002a"/>
<line x1="153.12" y1="390.6" x2="153.12" y2="385.5" stroke="#e0002a" stroke-width="1" stroke-linecap="butt"/>
<line x1="151.82" y1="385.5" x2="154.42" y2="385.5" stroke="#e0002a" stroke-width="1" stroke-linecap="butt"/>
<circle cx="153.12" cy="390.6" r="0.9" fill="#e0002a"/>
<line x1="153.12" y1="436.2" x2="153.12" y2="432.5" stroke="#e0002a" stroke-width="1" stroke-linecap="butt"/>
<line x1="151.82" y1="432.5" x2="154.42" y2="432.5" stroke="#e0002a" stroke-width="1" stroke-linecap="butt"/>
<circle cx="153.12" cy="436.2" r="0.9" fill="#e0002a"/>
<text transform="translate(155.62,554.33) rotate(-90) scale(1.058,1)" fill="#000" style="font-family:'Liberation Sans', sans-serif;font-size:7.2px;">huXBR1-402-G5-PNU</text>
<line x1="130.2" y1="474.1" x2="130.2" y2="477.1" stroke="#000" stroke-width="1" stroke-linecap="butt"/>
<line x1="137.84" y1="474.1" x2="137.84" y2="477.1" stroke="#000" stroke-width="1" stroke-linecap="butt"/>
<line x1="145.48" y1="474.1" x2="145.48" y2="477.1" stroke="#000" stroke-width="1" stroke-linecap="butt"/>
<line x1="153.12" y1="474.1" x2="153.12" y2="477.1" stroke="#000" stroke-width="1" stroke-linecap="butt"/>
<line x1="160.76" y1="474.1" x2="160.76" y2="477.1" stroke="#000" stroke-width="1" stroke-linecap="butt"/>
<rect x="165.8" y="434.7" width="5.2" height="39.4" fill="#aaebab"/>
<rect x="165.8" y="376.4" width="5.2" height="58.3" fill="#8aafd2"/>
<rect x="165.8" y="371.4" width="5.2" height="5" fill="#f2909f"/>
<rect x="166.32" y="371.92" width="4.15" height="102.18" fill="none" stroke="#000" stroke-width="1.05"/>
<line x1="165.8" y1="376.4" x2="171" y2="376.4" stroke="#000" stroke-width="0.9" stroke-linecap="butt"/>
<line x1="165.8" y1="434.7" x2="171" y2="434.7" stroke="#000" stroke-width="0.9" stroke-linecap="butt"/>
<line x1="168.4" y1="371.4" x2="168.4" y2="370.4" stroke="#e0002a" stroke-width="1" stroke-linecap="butt"/>
<line x1="167.1" y1="370.4" x2="169.7" y2="370.4" stroke="#e0002a" stroke-width="1" stroke-linecap="butt"/>
<circle cx="168.4" cy="371.4" r="0.9" fill="#e0002a"/>
<line x1="168.4" y1="376.4" x2="168.4" y2="374.4" stroke="#e0002a" stroke-width="1" stroke-linecap="butt"/>
<line x1="167.1" y1="374.4" x2="169.7" y2="374.4" stroke="#e0002a" stroke-width="1" stroke-linecap="butt"/>
<circle cx="168.4" cy="376.4" r="0.9" fill="#e0002a"/>
<line x1="168.4" y1="434.7" x2="168.4" y2="432.7" stroke="#e0002a" stroke-width="1" stroke-linecap="butt"/>
<line x1="167.1" y1="432.7" x2="169.7" y2="432.7" stroke="#e0002a" stroke-width="1" stroke-linecap="butt"/>
<circle cx="168.4" cy="434.7" r="0.9" fill="#e0002a"/>
<text transform="translate(170.9,504.43) rotate(-90) scale(1.049,1)" fill="#000" style="font-family:'Liberation Sans', sans-serif;font-size:7.2px;">Vehicle</text>
<rect x="173.44" y="433.7" width="5.2" height="40.4" fill="#aaebab"/>
<rect x="173.44" y="376.7" width="5.2" height="57" fill="#8aafd2"/>
<rect x="173.44" y="371.4" width="5.2" height="5.3" fill="#f2909f"/>
<rect x="173.97" y="371.92" width="4.15" height="102.18" fill="none" stroke="#000" stroke-width="1.05"/>
<line x1="173.44" y1="376.7" x2="178.64" y2="376.7" stroke="#000" stroke-width="0.9" stroke-linecap="butt"/>
<line x1="173.44" y1="433.7" x2="178.64" y2="433.7" stroke="#000" stroke-width="0.9" stroke-linecap="butt"/>
<line x1="176.04" y1="371.4" x2="176.04" y2="370.4" stroke="#e0002a" stroke-width="1" stroke-linecap="butt"/>
<line x1="174.74" y1="370.4" x2="177.34" y2="370.4" stroke="#e0002a" stroke-width="1" stroke-linecap="butt"/>
<circle cx="176.04" cy="371.4" r="0.9" fill="#e0002a"/>
<line x1="176.04" y1="376.7" x2="176.04" y2="374.7" stroke="#e0002a" stroke-width="1" stroke-linecap="butt"/>
<line x1="174.74" y1="374.7" x2="177.34" y2="374.7" stroke="#e0002a" stroke-width="1" stroke-linecap="butt"/>
<circle cx="176.04" cy="376.7" r="0.9" fill="#e0002a"/>
<line x1="176.04" y1="433.7" x2="176.04" y2="431.7" stroke="#e0002a" stroke-width="1" stroke-linecap="butt"/>
<line x1="174.74" y1="431.7" x2="177.34" y2="431.7" stroke="#e0002a" stroke-width="1" stroke-linecap="butt"/>
<circle cx="176.04" cy="433.7" r="0.9" fill="#e0002a"/>
<text transform="translate(178.54,523.84) rotate(-90) scale(1.073,1)" fill="#000" style="font-family:'Liberation Sans', sans-serif;font-size:7.2px;">huXBR1-402</text>
<rect x="181.08" y="434.7" width="5.2" height="39.4" fill="#aaebab"/>
<rect x="181.08" y="379.9" width="5.2" height="54.8" fill="#8aafd2"/>
<rect x="181.08" y="371.4" width="5.2" height="8.5" fill="#f2909f"/>
<rect x="181.61" y="371.92" width="4.15" height="102.18" fill="none" stroke="#000" stroke-width="1.05"/>
<line x1="181.08" y1="379.9" x2="186.28" y2="379.9" stroke="#000" stroke-width="0.9" stroke-linecap="butt"/>
<line x1="181.08" y1="434.7" x2="186.28" y2="434.7" stroke="#000" stroke-width="0.9" stroke-linecap="butt"/>
<line x1="183.68" y1="371.4" x2="183.68" y2="370.4" stroke="#e0002a" stroke-width="1" stroke-linecap="butt"/>
<line x1="182.38" y1="370.4" x2="184.98" y2="370.4" stroke="#e0002a" stroke-width="1" stroke-linecap="butt"/>
<circle cx="183.68" cy="371.4" r="0.9" fill="#e0002a"/>
<line x1="183.68" y1="379.9" x2="183.68" y2="376.9" stroke="#e0002a" stroke-width="1" stroke-linecap="butt"/>
<line x1="182.38" y1="376.9" x2="184.98" y2="376.9" stroke="#e0002a" stroke-width="1" stroke-linecap="butt"/>
<circle cx="183.68" cy="379.9" r="0.9" fill="#e0002a"/>
<line x1="183.68" y1="434.7" x2="183.68" y2="432.7" stroke="#e0002a" stroke-width="1" stroke-linecap="butt"/>
<line x1="182.38" y1="432.7" x2="184.98" y2="432.7" stroke="#e0002a" stroke-width="1" stroke-linecap="butt"/>
<circle cx="183.68" cy="434.7" r="0.9" fill="#e0002a"/>
<text transform="translate(186.18,524.67) rotate(-90) scale(1.028,1)" fill="#000" style="font-family:'Liberation Sans', sans-serif;font-size:7.2px;">Tras-G5-PNU</text>
<rect x="188.72" y="439.7" width="5.2" height="34.4" fill="#aaebab"/>
<rect x="188.72" y="396.7" width="5.2" height="43" fill="#8aafd2"/>
<rect x="188.72" y="372.5" width="5.2" height="24.2" fill="#f2909f"/>
<rect x="189.25" y="373.02" width="4.15" height="101.08" fill="none" stroke="#000" stroke-width="1.05"/>
<line x1="188.72" y1="396.7" x2="193.92" y2="396.7" stroke="#000" stroke-width="0.9" stroke-linecap="butt"/>
<line x1="188.72" y1="439.7" x2="193.92" y2="439.7" stroke="#000" stroke-width="0.9" stroke-linecap="butt"/>
<line x1="191.32" y1="372.5" x2="191.32" y2="371.5" stroke="#e0002a" stroke-width="1" stroke-linecap="butt"/>
<line x1="190.02" y1="371.5" x2="192.62" y2="371.5" stroke="#e0002a" stroke-width="1" stroke-linecap="butt"/>
<circle cx="191.32" cy="372.5" r="0.9" fill="#e0002a"/>
<line x1="191.32" y1="396.7" x2="191.32" y2="393.7" stroke="#e0002a" stroke-width="1" stroke-linecap="butt"/>
<line x1="190.02" y1="393.7" x2="192.62" y2="393.7" stroke="#e0002a" stroke-width="1" stroke-linecap="butt"/>
<circle cx="191.32" cy="396.7" r="0.9" fill="#e0002a"/>
<line x1="191.32" y1="439.7" x2="191.32" y2="437.7" stroke="#e0002a" stroke-width="1" stroke-linecap="butt"/>
<line x1="190.02" y1="437.7" x2="192.62" y2="437.7" stroke="#e0002a" stroke-width="1" stroke-linecap="butt"/>
<circle cx="191.32" cy="439.7" r="0.9" fill="#e0002a"/>
<text transform="translate(193.82,554.33) rotate(-90) scale(1.058,1)" fill="#000" style="font-family:'Liberation Sans', sans-serif;font-size:7.2px;">huXBR1-402-G5-PNU</text>
<line x1="168.4" y1="474.1" x2="168.4" y2="477.1" stroke="#000" stroke-width="1" stroke-linecap="butt"/>
<line x1="176.04" y1="474.1" x2="176.04" y2="477.1" stroke="#000" stroke-width="1" stroke-linecap="butt"/>
<line x1="183.68" y1="474.1" x2="183.68" y2="477.1" stroke="#000" stroke-width="1" stroke-linecap="butt"/>
<line x1="191.32" y1="474.1" x2="191.32" y2="477.1" stroke="#000" stroke-width="1" stroke-linecap="butt"/>
<line x1="198.96" y1="474.1" x2="198.96" y2="477.1" stroke="#000" stroke-width="1" stroke-linecap="butt"/>
<rect x="204" y="429.8" width="5.2" height="44.3" fill="#aaebab"/>
<rect x="204" y="388.6" width="5.2" height="41.2" fill="#8aafd2"/>
<rect x="204" y="380.1" width="5.2" height="8.5" fill="#f2909f"/>
<rect x="204.52" y="380.62" width="4.15" height="93.47" fill="none" stroke="#000" stroke-width="1.05"/>
<line x1="204" y1="388.6" x2="209.2" y2="388.6" stroke="#000" stroke-width="0.9" stroke-linecap="butt"/>
<line x1="204" y1="429.8" x2="209.2" y2="429.8" stroke="#000" stroke-width="0.9" stroke-linecap="butt"/>
<line x1="206.6" y1="380.1" x2="206.6" y2="375.3" stroke="#e0002a" stroke-width="1" stroke-linecap="butt"/>
<line x1="205.3" y1="375.3" x2="207.9" y2="375.3" stroke="#e0002a" stroke-width="1" stroke-linecap="butt"/>
<circle cx="206.6" cy="380.1" r="0.9" fill="#e0002a"/>
<line x1="206.6" y1="388.6" x2="206.6" y2="383.6" stroke="#e0002a" stroke-width="1" stroke-linecap="butt"/>
<line x1="205.3" y1="383.6" x2="207.9" y2="383.6" stroke="#e0002a" stroke-width="1" stroke-linecap="butt"/>
<circle cx="206.6" cy="388.6" r="0.9" fill="#e0002a"/>
<line x1="206.6" y1="429.8" x2="206.6" y2="424.4" stroke="#e0002a" stroke-width="1" stroke-linecap="butt"/>
<line x1="205.3" y1="424.4" x2="207.9" y2="424.4" stroke="#e0002a" stroke-width="1" stroke-linecap="butt"/>
<circle cx="206.6" cy="429.8" r="0.9" fill="#e0002a"/>
<text transform="translate(209.1,504.43) rotate(-90) scale(1.049,1)" fill="#000" style="font-family:'Liberation Sans', sans-serif;font-size:7.2px;">Vehicle</text>
<rect x="211.64" y="429.8" width="5.2" height="44.3" fill="#aaebab"/>
<rect x="211.64" y="385.8" width="5.2" height="44" fill="#8aafd2"/>
<rect x="211.64" y="376.6" width="5.2" height="9.2" fill="#f2909f"/>
<rect x="212.17" y="377.12" width="4.15" height="96.97" fill="none" stroke="#000" stroke-width="1.05"/>
<line x1="211.64" y1="385.8" x2="216.84" y2="385.8" stroke="#000" stroke-width="0.9" stroke-linecap="butt"/>
<line x1="211.64" y1="429.8" x2="216.84" y2="429.8" stroke="#000" stroke-width="0.9" stroke-linecap="butt"/>
<line x1="214.24" y1="376.6" x2="214.24" y2="375.8" stroke="#e0002a" stroke-width="1" stroke-linecap="butt"/>
<line x1="212.94" y1="375.8" x2="215.54" y2="375.8" stroke="#e0002a" stroke-width="1" stroke-linecap="butt"/>
<circle cx="214.24" cy="376.6" r="0.9" fill="#e0002a"/>
<line x1="214.24" y1="385.8" x2="214.24" y2="380.8" stroke="#e0002a" stroke-width="1" stroke-linecap="butt"/>
<line x1="212.94" y1="380.8" x2="215.54" y2="380.8" stroke="#e0002a" stroke-width="1" stroke-linecap="butt"/>
<circle cx="214.24" cy="385.8" r="0.9" fill="#e0002a"/>
<line x1="214.24" y1="429.8" x2="214.24" y2="423.5" stroke="#e0002a" stroke-width="1" stroke-linecap="butt"/>
<line x1="212.94" y1="423.5" x2="215.54" y2="423.5" stroke="#e0002a" stroke-width="1" stroke-linecap="butt"/>
<circle cx="214.24" cy="429.8" r="0.9" fill="#e0002a"/>
<text transform="translate(216.74,523.84) rotate(-90) scale(1.073,1)" fill="#000" style="font-family:'Liberation Sans', sans-serif;font-size:7.2px;">huXBR1-402</text>
<rect x="219.28" y="430.7" width="5.2" height="43.4" fill="#aaebab"/>
<rect x="219.28" y="385.1" width="5.2" height="45.6" fill="#8aafd2"/>
<rect x="219.28" y="375.7" width="5.2" height="9.4" fill="#f2909f"/>
<rect x="219.81" y="376.22" width="4.15" height="97.88" fill="none" stroke="#000" stroke-width="1.05"/>
<line x1="219.28" y1="385.1" x2="224.48" y2="385.1" stroke="#000" stroke-width="0.9" stroke-linecap="butt"/>
<line x1="219.28" y1="430.7" x2="224.48" y2="430.7" stroke="#000" stroke-width="0.9" stroke-linecap="butt"/>
<line x1="221.88" y1="375.7" x2="221.88" y2="374.4" stroke="#e0002a" stroke-width="1" stroke-linecap="butt"/>
<line x1="220.58" y1="374.4" x2="223.18" y2="374.4" stroke="#e0002a" stroke-width="1" stroke-linecap="butt"/>
<circle cx="221.88" cy="375.7" r="0.9" fill="#e0002a"/>
<line x1="221.88" y1="385.1" x2="221.88" y2="380.1" stroke="#e0002a" stroke-width="1" stroke-linecap="butt"/>
<line x1="220.58" y1="380.1" x2="223.18" y2="380.1" stroke="#e0002a" stroke-width="1" stroke-linecap="butt"/>
<circle cx="221.88" cy="385.1" r="0.9" fill="#e0002a"/>
<line x1="221.88" y1="430.7" x2="221.88" y2="425.4" stroke="#e0002a" stroke-width="1" stroke-linecap="butt"/>
<line x1="220.58" y1="425.4" x2="223.18" y2="425.4" stroke="#e0002a" stroke-width="1" stroke-linecap="butt"/>
<circle cx="221.88" cy="430.7" r="0.9" fill="#e0002a"/>
<text transform="translate(224.38,524.67) rotate(-90) scale(1.028,1)" fill="#000" style="font-family:'Liberation Sans', sans-serif;font-size:7.2px;">Tras-G5-PNU</text>
<rect x="226.92" y="430.4" width="5.2" height="43.7" fill="#aaebab"/>
<rect x="226.92" y="385.1" width="5.2" height="45.3" fill="#8aafd2"/>
<rect x="226.92" y="375.7" width="5.2" height="9.4" fill="#f2909f"/>
<rect x="227.44" y="376.22" width="4.15" height="97.88" fill="none" stroke="#000" stroke-width="1.05"/>
<line x1="226.92" y1="385.1" x2="232.12" y2="385.1" stroke="#000" stroke-width="0.9" stroke-linecap="butt"/>
<line x1="226.92" y1="430.4" x2="232.12" y2="430.4" stroke="#000" stroke-width="0.9" stroke-linecap="butt"/>
<line x1="229.52" y1="375.7" x2="229.52" y2="373.6" stroke="#e0002a" stroke-width="1" stroke-linecap="butt"/>
<line x1="228.22" y1="373.6" x2="230.82" y2="373.6" stroke="#e0002a" stroke-width="1" stroke-linecap="butt"/>
<circle cx="229.52" cy="375.7" r="0.9" fill="#e0002a"/>
<line x1="229.52" y1="385.1" x2="229.52" y2="380.1" stroke="#e0002a" stroke-width="1" stroke-linecap="butt"/>
<line x1="228.22" y1="380.1" x2="230.82" y2="380.1" stroke="#e0002a" stroke-width="1" stroke-linecap="butt"/>
<circle cx="229.52" cy="385.1" r="0.9" fill="#e0002a"/>
<line x1="229.52" y1="430.4" x2="229.52" y2="424.7" stroke="#e0002a" stroke-width="1" stroke-linecap="butt"/>
<line x1="228.22" y1="424.7" x2="230.82" y2="424.7" stroke="#e0002a" stroke-width="1" stroke-linecap="butt"/>
<circle cx="229.52" cy="430.4" r="0.9" fill="#e0002a"/>
<text transform="translate(232.02,554.33) rotate(-90) scale(1.058,1)" fill="#000" style="font-family:'Liberation Sans', sans-serif;font-size:7.2px;">huXBR1-402-G5-PNU</text>
<line x1="206.6" y1="474.1" x2="206.6" y2="477.1" stroke="#000" stroke-width="1" stroke-linecap="butt"/>
<line x1="214.24" y1="474.1" x2="214.24" y2="477.1" stroke="#000" stroke-width="1" stroke-linecap="butt"/>
<line x1="221.88" y1="474.1" x2="221.88" y2="477.1" stroke="#000" stroke-width="1" stroke-linecap="butt"/>
<line x1="229.52" y1="474.1" x2="229.52" y2="477.1" stroke="#000" stroke-width="1" stroke-linecap="butt"/>
<line x1="48.35" y1="350.4" x2="48.35" y2="474.75" stroke="#000" stroke-width="1.3" stroke-linecap="butt"/>
<line x1="45" y1="474.1" x2="234.9" y2="474.1" stroke="#000" stroke-width="1.3" stroke-linecap="butt"/>
<line x1="45" y1="371.1" x2="48.35" y2="371.1" stroke="#000" stroke-width="1.2" stroke-linecap="butt"/>
<line x1="45" y1="422.6" x2="48.35" y2="422.6" stroke="#000" stroke-width="1.2" stroke-linecap="butt"/>
<line x1="45" y1="474.1" x2="48.35" y2="474.1" stroke="#000" stroke-width="1.2" stroke-linecap="butt"/>
<line x1="51.5" y1="557.4" x2="76.6" y2="557.4" stroke="#000" stroke-width="1.2" stroke-linecap="butt"/>
<text transform="translate(55.39,566.4) scale(1.162,1)" fill="#000" style="font-family:'Liberation Sans', sans-serif;font-size:7.4px;">HG3</text>
<line x1="93.5" y1="557.4" x2="118.9" y2="557.4" stroke="#000" stroke-width="1.2" stroke-linecap="butt"/>
<text transform="translate(97.87,566.4) scale(1.038,1)" fill="#000" style="font-family:'Liberation Sans', sans-serif;font-size:7.4px;">Mino</text>
<line x1="133.4" y1="557.4" x2="158.5" y2="557.4" stroke="#000" stroke-width="1.2" stroke-linecap="butt"/>
<text transform="translate(134.89,566.4) scale(0.953,1)" fill="#000" style="font-family:'Liberation Sans', sans-serif;font-size:7.4px;">JeKo-1</text>
<line x1="170" y1="557.4" x2="195.5" y2="557.4" stroke="#000" stroke-width="1.2" stroke-linecap="butt"/>
<text transform="translate(175.49,566.4) scale(1.095,1)" fill="#000" style="font-family:'Liberation Sans', sans-serif;font-size:7.4px;">697</text>
<line x1="208.5" y1="557.4" x2="234.4" y2="557.4" stroke="#000" stroke-width="1.2" stroke-linecap="butt"/>
<text transform="translate(209.18,566.4) scale(1.020,1)" fill="#000" style="font-family:'Liberation Sans', sans-serif;font-size:7.4px;">MEC-1</text>
<line x1="53.6" y1="371.3" x2="67.8" y2="371.3" stroke="#000" stroke-width="1.2" stroke-linecap="butt"/>
<polyline points="60.4,371.3 60.4,365.2 76.3,365.2 76.3,370.8" fill="none" stroke="#000" stroke-width="1.2" stroke-linejoin="miter"/>
<text transform="translate(52.31,362.3) scale(0.864,1)" fill="#000" style="font-family:'Liberation Sans', sans-serif;font-size:6.8px;">*</text>
<text transform="translate(55.61,361.9) scale(1.197,1)" fill="#000" style="font-family:'Liberation Sans', sans-serif;font-size:7px;font-style:italic;">p</text>
<text transform="translate(61.45,362.6) scale(1.235,1)" fill="#000" style="font-family:'Liberation Sans', sans-serif;font-size:9px;">&lt;</text>
<text transform="translate(69.01,361.9) scale(1.007,1)" fill="#000" style="font-family:'Liberation Sans', sans-serif;font-size:7.4px;">0.001</text>
<line x1="91.9" y1="365" x2="106.5" y2="365" stroke="#000" stroke-width="1.2" stroke-linecap="butt"/>
<polyline points="99.6,365 99.6,359.2 115.2,359.2 115.2,364.7" fill="none" stroke="#000" stroke-width="1.2" stroke-linejoin="miter"/>
<text transform="translate(91.81,356.9) scale(0.864,1)" fill="#000" style="font-family:'Liberation Sans', sans-serif;font-size:6.8px;">*</text>
<text transform="translate(95.11,356.5) scale(1.197,1)" fill="#000" style="font-family:'Liberation Sans', sans-serif;font-size:7px;font-style:italic;">p</text>
<text transform="translate(100.95,357.2) scale(1.235,1)" fill="#000" style="font-family:'Liberation Sans', sans-serif;font-size:9px;">&lt;</text>
<text transform="translate(108.04,356.5) scale(1.118,1)" fill="#000" style="font-family:'Liberation Sans', sans-serif;font-size:7.4px;">.005</text>
<line x1="128.7" y1="362.4" x2="142.8" y2="362.4" stroke="#000" stroke-width="1.2" stroke-linecap="butt"/>
<polyline points="137,362.4 137,356.3 153,356.3 153,362.4" fill="none" stroke="#000" stroke-width="1.2" stroke-linejoin="miter"/>
<text transform="translate(131.91,354.3) scale(0.864,1)" fill="#000" style="font-family:'Liberation Sans', sans-serif;font-size:6.8px;">*</text>
<text transform="translate(135.21,353.9) scale(1.197,1)" fill="#000" style="font-family:'Liberation Sans', sans-serif;font-size:7px;font-style:italic;">p</text>
<text transform="translate(141.05,354.6) scale(1.235,1)" fill="#000" style="font-family:'Liberation Sans', sans-serif;font-size:9px;">&lt;</text>
<text transform="translate(148.24,353.9) scale(0.984,1)" fill="#000" style="font-family:'Liberation Sans', sans-serif;font-size:7.4px;">.01</text>
<line x1="168.3" y1="367.8" x2="182.8" y2="367.8" stroke="#000" stroke-width="1.2" stroke-linecap="butt"/>
<polyline points="175.2,367.8 175.2,361.7 191.1,361.7 191.1,367.8" fill="none" stroke="#000" stroke-width="1.2" stroke-linejoin="miter"/>
<text transform="translate(164.71,359.3) scale(0.864,1)" fill="#000" style="font-family:'Liberation Sans', sans-serif;font-size:6.8px;">*</text>
<text transform="translate(168.01,358.9) scale(1.197,1)" fill="#000" style="font-family:'Liberation Sans', sans-serif;font-size:7px;font-style:italic;">p</text>
<text transform="translate(173.85,359.6) scale(1.235,1)" fill="#000" style="font-family:'Liberation Sans', sans-serif;font-size:9px;">&lt;</text>
<text transform="translate(181.39,358.9) scale(1.075,1)" fill="#000" style="font-family:'Liberation Sans', sans-serif;font-size:7.4px;">0.001</text>
<rect x="243.2" y="362.8" width="13.2" height="3.6" fill="#f2909f" stroke="#000" stroke-width="1"/>
<text transform="translate(259.4,367.2) scale(1.131,1)" fill="#000" style="font-family:'Liberation Sans', sans-serif;font-size:7px;">G2/M</text>
<rect x="243.2" y="373.2" width="13.2" height="3.6" fill="#8aafd2" stroke="#000" stroke-width="1"/>
<text transform="translate(259.5,377.6) scale(1.000,1)" text-anchor="start" fill="#000" style="font-family:'Liberation Sans', sans-serif;font-size:7px;" >S</text>
<rect x="243.2" y="381.7" width="13.2" height="3.6" fill="#aaebab" stroke="#000" stroke-width="1"/>
<text transform="translate(259.41,386.1) scale(1.115,1)" fill="#000" style="font-family:'Liberation Sans', sans-serif;font-size:7px;">G1/G0</text>
<text transform="translate(325.55,348.6) scale(0.985,1)" fill="#000" style="font-family:'Liberation Sans', sans-serif;font-size:11.4px;font-weight:bold;">E</text>
<line x1="358.1" y1="388.8" x2="358.1" y2="537.45" stroke="#000" stroke-width="1.3" stroke-linecap="butt"/>
<line x1="355" y1="536.8" x2="506.2" y2="536.8" stroke="#000" stroke-width="1.3" stroke-linecap="butt"/>
<line x1="355" y1="402.8" x2="358.1" y2="402.8" stroke="#000" stroke-width="1.2" stroke-linecap="butt"/>
<line x1="355" y1="469.8" x2="358.1" y2="469.8" stroke="#000" stroke-width="1.2" stroke-linecap="butt"/>
<line x1="355" y1="536.8" x2="358.1" y2="536.8" stroke="#000" stroke-width="1.2" stroke-linecap="butt"/>
<text transform="translate(338.96,405.8) scale(1.162,1)" fill="#000" style="font-family:'Liberation Sans', sans-serif;font-size:7.2px;">100</text>
<text transform="translate(343.04,472.9) scale(1.237,1)" fill="#000" style="font-family:'Liberation Sans', sans-serif;font-size:7.2px;">50</text>
<text transform="translate(347.79,539.8) scale(1.104,1)" fill="#000" style="font-family:'Liberation Sans', sans-serif;font-size:7.2px;">0</text>
<text transform="translate(333.5,479.02) rotate(-90) scale(0.708,1)" fill="#000" style="font-family:'Liberation Sans', sans-serif;font-size:8.9px;stroke:#000;stroke-width:0.14px;">% Live cells</text>
<line x1="376.5" y1="536.8" x2="376.5" y2="539.1" stroke="#000" stroke-width="1.1" stroke-linecap="butt"/>
<line x1="404.2" y1="536.8" x2="404.2" y2="539.1" stroke="#000" stroke-width="1.1" stroke-linecap="butt"/>
<line x1="431.7" y1="536.8" x2="431.7" y2="539.1" stroke="#000" stroke-width="1.1" stroke-linecap="butt"/>
<line x1="459.6" y1="536.8" x2="459.6" y2="539.1" stroke="#000" stroke-width="1.1" stroke-linecap="butt"/>
<line x1="487.4" y1="536.8" x2="487.4" y2="539.1" stroke="#000" stroke-width="1.1" stroke-linecap="butt"/>
<line x1="369.7" y1="359.6" x2="432.7" y2="359.6" stroke="#000" stroke-width="1.2" stroke-linecap="butt"/>
<polyline points="401.5,359.6 401.5,348.5 463.4,348.5 463.4,359.6" fill="none" stroke="#000" stroke-width="1.2" stroke-linejoin="miter"/>
<text transform="translate(428.47,345.3) scale(1.107,1)" fill="#000" style="font-family:'Liberation Sans', sans-serif;font-size:7.2px;">ns</text>
<line x1="371.1" y1="388.5" x2="462.2" y2="388.5" stroke="#000" stroke-width="1.2" stroke-linecap="butt"/>
<polyline points="415.4,388.5 415.4,379.2 486.7,379.2 486.7,387.3" fill="none" stroke="#000" stroke-width="1.2" stroke-linejoin="miter"/>
<text transform="translate(432.61,375.2) scale(0.864,1)" fill="#000" style="font-family:'Liberation Sans', sans-serif;font-size:6.8px;">*</text>
<text transform="translate(435.91,374.8) scale(1.197,1)" fill="#000" style="font-family:'Liberation Sans', sans-serif;font-size:7px;font-style:italic;">p</text>
<text transform="translate(441.75,375.5) scale(1.235,1)" fill="#000" style="font-family:'Liberation Sans', sans-serif;font-size:9px;">&lt;</text>
<text transform="translate(449.29,374.8) scale(1.080,1)" fill="#000" style="font-family:'Liberation Sans', sans-serif;font-size:7.4px;">0.001</text>
<circle cx="370.1" cy="402.9" r="3.8" fill="#0e4b86"/>
<circle cx="372.68" cy="402.9" r="3.8" fill="#0e4b86"/>
<circle cx="375.26" cy="402.9" r="3.8" fill="#0e4b86"/>
<circle cx="377.84" cy="402.9" r="3.8" fill="#0e4b86"/>
<circle cx="380.42" cy="402.9" r="3.8" fill="#0e4b86"/>
<circle cx="383" cy="402.9" r="3.8" fill="#0e4b86"/>
<circle cx="397.5" cy="397.9" r="2.85" fill="none" stroke="#f39200" stroke-width="1.35"/>
<circle cx="410.4" cy="397.9" r="2.85" fill="none" stroke="#f39200" stroke-width="1.35"/>
<circle cx="399.5" cy="402.3" r="2.85" fill="none" stroke="#f39200" stroke-width="1.35"/>
<circle cx="403" cy="402.3" r="2.85" fill="none" stroke="#f39200" stroke-width="1.35"/>
<circle cx="406.5" cy="402.3" r="2.85" fill="none" stroke="#f39200" stroke-width="1.35"/>
<circle cx="409.8" cy="402.6" r="2.85" fill="none" stroke="#f39200" stroke-width="1.35"/>
<circle cx="398.6" cy="407.8" r="2.85" fill="none" stroke="#f39200" stroke-width="1.35"/>
<circle cx="402.5" cy="407.8" r="2.85" fill="none" stroke="#f39200" stroke-width="1.35"/>
<circle cx="406.2" cy="407.8" r="2.85" fill="none" stroke="#f39200" stroke-width="1.35"/>
<circle cx="411" cy="409.3" r="2.85" fill="none" stroke="#f39200" stroke-width="1.35"/>
<circle cx="404.1" cy="416.4" r="2.85" fill="none" stroke="#f39200" stroke-width="1.35"/>
<line x1="395" y1="402.9" x2="414" y2="402.9" stroke="#f39200" stroke-width="1.3" stroke-linecap="butt"/>
<circle cx="438.1" cy="396" r="3.5" fill="#3db54a"/>
<circle cx="438.7" cy="401.7" r="3.5" fill="#3db54a"/>
<circle cx="429.8" cy="400.6" r="3.5" fill="#3db54a"/>
<circle cx="426" cy="405.8" r="3.5" fill="#3db54a"/>
<circle cx="432.3" cy="405.8" r="3.5" fill="#3db54a"/>
<circle cx="438.1" cy="408.7" r="3.5" fill="#3db54a"/>
<circle cx="433.5" cy="412.1" r="3.5" fill="#3db54a"/>
<circle cx="431.7" cy="420.8" r="3.5" fill="#3db54a"/>
<circle cx="430" cy="427.1" r="3.5" fill="#3db54a"/>
<circle cx="434.6" cy="426.5" r="3.5" fill="#3db54a"/>
<circle cx="435.5" cy="404" r="3.5" fill="#3db54a"/>
<circle cx="453.4" cy="401.7" r="3.5" fill="#c8102e"/>
<circle cx="465.8" cy="402.3" r="3.5" fill="#c8102e"/>
<circle cx="461.2" cy="403.5" r="3.5" fill="#c8102e"/>
<circle cx="453.1" cy="408.1" r="3.5" fill="#c8102e"/>
<circle cx="458.8" cy="409.2" r="3.5" fill="#c8102e"/>
<circle cx="465.8" cy="412.1" r="3.5" fill="#c8102e"/>
<circle cx="457.7" cy="412.7" r="3.5" fill="#c8102e"/>
<circle cx="457.6" cy="421.5" r="3.5" fill="#c8102e"/>
<circle cx="461.6" cy="422.7" r="3.5" fill="#c8102e"/>
<circle cx="459.3" cy="444.9" r="3.5" fill="#c8102e"/>
<circle cx="456" cy="405" r="3.5" fill="#c8102e"/>
<circle cx="462" cy="409.5" r="3.5" fill="#c8102e"/>
<line x1="480.8" y1="456.7" x2="493.6" y2="456.7" stroke="#4b1f6f" stroke-width="1.2" stroke-linecap="butt"/>
<polygon points="487.1,421.7 491,425.6 487.1,429.5 483.2,425.6" fill="#4b1f6f"/>
<polygon points="480.8,435.4 484.7,439.3 480.8,443.2 476.9,439.3" fill="#4b1f6f"/>
<polygon points="493.6,432.2 497.5,436.1 493.6,440 489.7,436.1" fill="#4b1f6f"/>
<polygon points="493.6,439.6 497.5,443.5 493.6,447.4 489.7,443.5" fill="#4b1f6f"/>
<polygon points="480.8,452.8 484.7,456.7 480.8,460.6 476.9,456.7" fill="#4b1f6f"/>
<polygon points="493.6,451.2 497.5,455.1 493.6,459 489.7,455.1" fill="#4b1f6f"/>
<polygon points="487.1,458.9 491,462.8 487.1,466.7 483.2,462.8" fill="#4b1f6f"/>
<polygon points="493.6,471.8 497.5,475.7 493.6,479.6 489.7,475.7" fill="#4b1f6f"/>
<polygon points="480.8,475.3 484.7,479.2 480.8,483.1 476.9,479.2" fill="#4b1f6f"/>
<polygon points="493.6,481.4 497.5,485.3 493.6,489.2 489.7,485.3" fill="#4b1f6f"/>
<polygon points="487.1,511.7 491,515.6 487.1,519.5 483.2,515.6" fill="#4b1f6f"/>
<text transform="translate(379.8,545.3) rotate(-45)" text-anchor="end" style="font-family:'Liberation Sans', sans-serif;font-size:7.5px;">Vehicle</text>
<text transform="translate(407.5,545.3) rotate(-45)" text-anchor="end" style="font-family:'Liberation Sans', sans-serif;font-size:7.5px;">huXBR1-402</text>
<text transform="translate(435,545.3) rotate(-45)" text-anchor="end" style="font-family:'Liberation Sans', sans-serif;font-size:7.5px;">Tras-PNU</text>
<text transform="translate(462.9,545.3) rotate(-45)" text-anchor="end" style="font-family:'Liberation Sans', sans-serif;font-size:7.5px;">huXBR1-402-PNU</text>
<text transform="translate(490.7,545.3) rotate(-45)" text-anchor="end" style="font-family:'Liberation Sans', sans-serif;font-size:7.5px;">Obinutuzumab</text>
<rect x="0" y="0" width="520" height="1" fill="#000"/>
<rect x="0" y="0" width="1.2" height="597" fill="#000"/>
<rect x="518.5" y="0" width="1.5" height="597" fill="#000"/>
<rect x="0" y="595.2" width="520" height="1.8" fill="#000"/>
</svg>
</body></html>
